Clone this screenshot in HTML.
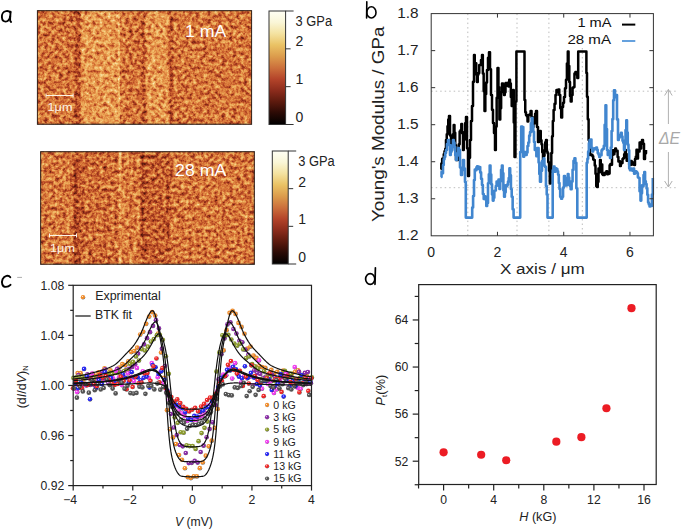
<!DOCTYPE html>
<html><head><meta charset="utf-8"><title>figure</title>
<style>html,body{margin:0;padding:0;background:#fff;width:685px;height:529px;overflow:hidden}svg text{font-family:"Liberation Sans",sans-serif}</style>
</head><body>
<svg width="685" height="529" viewBox="0 0 685 529" style="display:block;font-family:'Liberation Sans', sans-serif"><defs><linearGradient id="s1" gradientUnits="userSpaceOnUse" x1="37.4" y1="0" x2="251.6" y2="0"><stop offset="0.0000" stop-color="rgb(133,133,133)"/><stop offset="0.1709" stop-color="rgb(131,131,131)"/><stop offset="0.1825" stop-color="rgb(108,108,108)"/><stop offset="0.1965" stop-color="rgb(110,110,110)"/><stop offset="0.2082" stop-color="rgb(154,154,154)"/><stop offset="0.3739" stop-color="rgb(155,155,155)"/><stop offset="0.3810" stop-color="rgb(184,184,184)"/><stop offset="0.3880" stop-color="rgb(138,138,138)"/><stop offset="0.4136" stop-color="rgb(131,131,131)"/><stop offset="0.4837" stop-color="rgb(131,131,131)"/><stop offset="0.4977" stop-color="rgb(103,103,103)"/><stop offset="0.5117" stop-color="rgb(154,154,154)"/><stop offset="0.6050" stop-color="rgb(154,154,154)"/><stop offset="0.6214" stop-color="rgb(108,108,108)"/><stop offset="0.6377" stop-color="rgb(133,133,133)"/><stop offset="1.0000" stop-color="rgb(133,133,133)"/></linearGradient>
<linearGradient id="s2" gradientUnits="userSpaceOnUse" x1="40.7" y1="0" x2="254.3" y2="0"><stop offset="0.0000" stop-color="rgb(136,136,136)"/><stop offset="0.1465" stop-color="rgb(133,133,133)"/><stop offset="0.1606" stop-color="rgb(100,100,100)"/><stop offset="0.1793" stop-color="rgb(105,105,105)"/><stop offset="0.1934" stop-color="rgb(126,126,126)"/><stop offset="0.3619" stop-color="rgb(128,128,128)"/><stop offset="0.3713" stop-color="rgb(164,164,164)"/><stop offset="0.3806" stop-color="rgb(136,136,136)"/><stop offset="0.4602" stop-color="rgb(136,136,136)"/><stop offset="0.4789" stop-color="rgb(100,100,100)"/><stop offset="0.4953" stop-color="rgb(118,118,118)"/><stop offset="0.5866" stop-color="rgb(118,118,118)"/><stop offset="0.5983" stop-color="rgb(105,105,105)"/><stop offset="0.6100" stop-color="rgb(133,133,133)"/><stop offset="1.0000" stop-color="rgb(133,133,133)"/></linearGradient>
<filter id="f1" filterUnits="userSpaceOnUse" x="37.4" y="10.7" width="214.2" height="113.5" color-interpolation-filters="sRGB">
<feTurbulence type="fractalNoise" baseFrequency="0.27" numOctaves="3" seed="7" result="n"/>
<feColorMatrix in="n" type="matrix" values="1 0 0 0 0 1 0 0 0 0 1 0 0 0 0 0 0 0 0 1" result="ng0"/>
<feGaussianBlur in="ng0" stdDeviation="0.45" result="ng"/>
<feComposite in="SourceGraphic" in2="ng" operator="arithmetic" k1="0" k2="1" k3="0.78" k4="-0.39" result="v"/>
<feComponentTransfer in="v"><feFuncR type="table" tableValues="0.000 0.165 0.361 0.549 0.706 0.831 0.902 0.941 0.961 0.980 1.000"/><feFuncG type="table" tableValues="0.000 0.039 0.102 0.173 0.275 0.431 0.588 0.714 0.804 0.922 1.000"/><feFuncB type="table" tableValues="0.000 0.020 0.055 0.094 0.141 0.204 0.294 0.392 0.510 0.745 0.922"/></feComponentTransfer>
</filter>
<filter id="f2" filterUnits="userSpaceOnUse" x="40.7" y="151.75" width="213.60000000000002" height="112.44999999999999" color-interpolation-filters="sRGB">
<feTurbulence type="fractalNoise" baseFrequency="0.27" numOctaves="3" seed="11" result="n"/>
<feColorMatrix in="n" type="matrix" values="1 0 0 0 0 1 0 0 0 0 1 0 0 0 0 0 0 0 0 1" result="ng0"/>
<feGaussianBlur in="ng0" stdDeviation="0.45" result="ng"/>
<feComposite in="SourceGraphic" in2="ng" operator="arithmetic" k1="0" k2="1" k3="0.78" k4="-0.39" result="v"/>
<feComponentTransfer in="v"><feFuncR type="table" tableValues="0.000 0.165 0.361 0.549 0.706 0.831 0.902 0.941 0.961 0.980 1.000"/><feFuncG type="table" tableValues="0.000 0.039 0.102 0.173 0.275 0.431 0.588 0.714 0.804 0.922 1.000"/><feFuncB type="table" tableValues="0.000 0.020 0.055 0.094 0.141 0.204 0.294 0.392 0.510 0.745 0.922"/></feComponentTransfer>
</filter>
<linearGradient id="cb" x1="0" y1="1" x2="0" y2="0"><stop offset="0.00" stop-color="rgb(0, 0, 0)"/><stop offset="0.10" stop-color="rgb(42, 10, 5)"/><stop offset="0.20" stop-color="rgb(92, 26, 14)"/><stop offset="0.30" stop-color="rgb(140, 44, 28)"/><stop offset="0.40" stop-color="rgb(180, 68, 42)"/><stop offset="0.50" stop-color="rgb(204, 112, 60)"/><stop offset="0.60" stop-color="rgb(220, 156, 76)"/><stop offset="0.70" stop-color="rgb(234, 194, 100)"/><stop offset="0.80" stop-color="rgb(244, 226, 160)"/><stop offset="0.90" stop-color="rgb(250, 246, 215)"/><stop offset="1.00" stop-color="rgb(255, 255, 245)"/></linearGradient>
<radialGradient id="gef8d2e" cx="0.4" cy="0.38" r="0.62"><stop offset="0" stop-color="#fff" stop-opacity="0.85"/><stop offset="0.3" stop-color="#ef8d2e"/><stop offset="0.8" stop-color="#ef8d2e"/><stop offset="1" stop-color="#000" stop-opacity="0.6"/></radialGradient>
<radialGradient id="g8a2ea6" cx="0.4" cy="0.38" r="0.62"><stop offset="0" stop-color="#fff" stop-opacity="0.85"/><stop offset="0.3" stop-color="#8a2ea6"/><stop offset="0.8" stop-color="#8a2ea6"/><stop offset="1" stop-color="#000" stop-opacity="0.6"/></radialGradient>
<radialGradient id="g8b9a2e" cx="0.4" cy="0.38" r="0.62"><stop offset="0" stop-color="#fff" stop-opacity="0.85"/><stop offset="0.3" stop-color="#8b9a2e"/><stop offset="0.8" stop-color="#8b9a2e"/><stop offset="1" stop-color="#000" stop-opacity="0.6"/></radialGradient>
<radialGradient id="gf040f0" cx="0.4" cy="0.38" r="0.62"><stop offset="0" stop-color="#fff" stop-opacity="0.85"/><stop offset="0.3" stop-color="#f040f0"/><stop offset="0.8" stop-color="#f040f0"/><stop offset="1" stop-color="#000" stop-opacity="0.6"/></radialGradient>
<radialGradient id="g2a2af0" cx="0.4" cy="0.38" r="0.62"><stop offset="0" stop-color="#fff" stop-opacity="0.85"/><stop offset="0.3" stop-color="#2a2af0"/><stop offset="0.8" stop-color="#2a2af0"/><stop offset="1" stop-color="#000" stop-opacity="0.6"/></radialGradient>
<radialGradient id="gec2a2a" cx="0.4" cy="0.38" r="0.62"><stop offset="0" stop-color="#fff" stop-opacity="0.85"/><stop offset="0.3" stop-color="#ec2a2a"/><stop offset="0.8" stop-color="#ec2a2a"/><stop offset="1" stop-color="#000" stop-opacity="0.6"/></radialGradient>
<radialGradient id="g555555" cx="0.4" cy="0.38" r="0.62"><stop offset="0" stop-color="#fff" stop-opacity="0.85"/><stop offset="0.3" stop-color="#555555"/><stop offset="0.8" stop-color="#555555"/><stop offset="1" stop-color="#000" stop-opacity="0.6"/></radialGradient></defs>
<g fill="none" stroke="#000" stroke-width="1.9" stroke-linecap="round" stroke-linejoin="round">
<path d="M10.3,12.4 C9.4,11.2 7.6,10.9 6.1,11.1 C3.2,11.5 1.7,14.4 1.9,17.3 C2.1,20.1 3.5,21.6 5.6,21.6 C7.9,21.6 9.6,19.4 10.2,16.4"/>
<path d="M10.6,11.6 C10.4,14.4 10.1,17.2 10.1,19.4 C10.1,20.8 10.5,21.5 11.1,22"/>
<path d="M366.8,1.8 L366.6,18" stroke-width="1.6"/>
<ellipse cx="371.4" cy="12.4" rx="4.6" ry="5.6" stroke-width="1.6"/>
<path d="M10.3,277.2 C8.6,274.8 4.4,275.4 2.6,279.2 C1.2,282.6 2.2,286.9 5.8,286.9 C7.8,286.9 9.4,286 10.5,284.8"/>
<ellipse cx="370.2" cy="279" rx="4.6" ry="5.4" stroke-width="1.7"/>
<path d="M375.4,267.8 L375,284.3" stroke-width="1.7"/>
</g>
<line x1="17.2" y1="277.4" x2="22" y2="277.4" stroke="#999" stroke-width="0.8"/>
<rect x="37.4" y="10.7" width="214.2" height="113.5" fill="url(#s1)" filter="url(#f1)"/>
<rect x="37.4" y="10.7" width="214.2" height="113.5" fill="none" stroke="#3a2a20" stroke-width="1"/>
<rect x="40.7" y="151.75" width="213.6" height="112.45" fill="url(#s2)" filter="url(#f2)"/>
<rect x="40.7" y="151.75" width="213.6" height="112.45" fill="none" stroke="#3a2a20" stroke-width="1"/>
<text x="185" y="37" font-size="16" text-anchor="start" fill="#fff" textLength="41.4" lengthAdjust="spacingAndGlyphs" >1 mA</text>
<text x="175" y="175.5" font-size="16" text-anchor="start" fill="#fff" textLength="51.4" lengthAdjust="spacingAndGlyphs" >28 mA</text>
<g stroke="#fbf3e6" stroke-width="1"><line x1="46.1" y1="95.5" x2="73.1" y2="95.5"/><line x1="46.1" y1="93.5" x2="46.1" y2="97.5"/><line x1="73.1" y1="93.5" x2="73.1" y2="97.5"/></g>
<text x="47.5" y="111" font-size="10.5" text-anchor="start" fill="#fbf3e6" textLength="25" lengthAdjust="spacingAndGlyphs" >1μm</text>
<g stroke="#fbf3e6" stroke-width="1"><line x1="49.5" y1="235.5" x2="76.5" y2="235.5"/><line x1="49.5" y1="233.5" x2="49.5" y2="237.5"/><line x1="76.5" y1="233.5" x2="76.5" y2="237.5"/></g>
<text x="50" y="252" font-size="10.5" text-anchor="start" fill="#fbf3e6" textLength="25" lengthAdjust="spacingAndGlyphs" >1μm</text>
<rect x="269" y="11" width="16.6" height="113.5" fill="url(#cb)" stroke="#333" stroke-width="1"/>
<g stroke="#333" stroke-width="1"><line x1="285.6" y1="11" x2="293.6" y2="11"/><line x1="285.6" y1="124.5" x2="293.6" y2="124.5"/><line x1="285.6" y1="48.83" x2="290.6" y2="48.83"/><line x1="285.6" y1="86.67" x2="290.6" y2="86.67"/></g>
<text x="295.6" y="25.5" font-size="14" text-anchor="start" fill="#222" textLength="36.5" lengthAdjust="spacingAndGlyphs" >3 GPa</text>
<text x="295.6" y="46" font-size="14" text-anchor="start" fill="#222" >2</text>
<text x="295.6" y="84" font-size="14" text-anchor="start" fill="#222" >1</text>
<text x="295.6" y="121.5" font-size="14" text-anchor="start" fill="#222" >0</text>
<rect x="272.3" y="151" width="15.9" height="113" fill="url(#cb)" stroke="#333" stroke-width="1"/>
<g stroke="#333" stroke-width="1"><line x1="288.2" y1="151" x2="296.2" y2="151"/><line x1="288.2" y1="264" x2="296.2" y2="264"/><line x1="288.2" y1="188.67" x2="293.2" y2="188.67"/><line x1="288.2" y1="226.33" x2="293.2" y2="226.33"/></g>
<text x="298.2" y="166" font-size="14" text-anchor="start" fill="#222" textLength="36.5" lengthAdjust="spacingAndGlyphs" >3 GPa</text>
<text x="298.2" y="186.5" font-size="14" text-anchor="start" fill="#222" >2</text>
<text x="298.2" y="224" font-size="14" text-anchor="start" fill="#222" >1</text>
<text x="298.2" y="261.5" font-size="14" text-anchor="start" fill="#222" >0</text>
<line x1="467.8" y1="13.6" x2="467.8" y2="235.8" stroke="#bdbdbd" stroke-width="1" stroke-dasharray="1.5,3"/>
<line x1="517" y1="13.6" x2="517" y2="235.8" stroke="#bdbdbd" stroke-width="1" stroke-dasharray="1.5,3"/>
<line x1="548.9" y1="13.6" x2="548.9" y2="235.8" stroke="#bdbdbd" stroke-width="1" stroke-dasharray="1.5,3"/>
<line x1="582.3" y1="48" x2="582.3" y2="235.8" stroke="#bdbdbd" stroke-width="1" stroke-dasharray="1.5,3"/>
<line x1="431.2" y1="91.2" x2="678" y2="91.2" stroke="#bdbdbd" stroke-width="1" stroke-dasharray="1.5,3"/>
<line x1="431.2" y1="187.7" x2="678" y2="187.7" stroke="#bdbdbd" stroke-width="1" stroke-dasharray="1.5,3"/>
<g stroke="#b0b0b0" stroke-width="1" fill="none"><line x1="668.4" y1="89.5" x2="668.4" y2="124"/><path d="M664.6,95.5 L668.4,89.5 L672.2,95.5"/><line x1="668.4" y1="152" x2="668.4" y2="187"/><path d="M664.6,181 L668.4,187 L672.2,181"/></g>
<text x="659" y="144" font-size="16" text-anchor="start" fill="#a8a8a8" textLength="21" lengthAdjust="spacingAndGlyphs" font-style="italic">ΔE</text>
<path d="M440.5,169 L441.33,169 L441.33,163.43 L442.17,163.43 L442.17,158.76 L443,158.76 L443,160 L443.75,160 L443.75,154.21 L444.5,154.21 L444.5,151.35 L445.25,151.35 L445.25,148.64 L446,148.64 L446,140 L446.75,140 L446.75,134.35 L447.5,134.35 L447.5,126.23 L448.25,126.23 L448.25,119.49 L449,119.49 L449,116 L450,116 L450,135.4 L451,135.4 L451,150 L451.9,150 L451.9,146.9 L452.8,146.9 L452.8,134.21 L453.7,134.21 L453.7,125 L454.47,125 L454.47,132.72 L455.23,132.72 L455.23,145.27 L456,145.27 L456,160 L457,160 L457,160.12 L458,160.12 L458,150 L458.82,150 L458.82,144.15 L459.65,144.15 L459.65,131.46 L460.48,131.46 L460.48,130.23 L461.3,130.23 L461.3,124 L462.15,124 L462.15,133.28 L463,133.28 L463,150 L463.75,150 L463.75,139.74 L464.5,139.74 L464.5,131.94 L465.25,131.94 L465.25,122.97 L466,122.97 L466,117 L467,117 L467,148.27 L468,148.27 L468,176 L469,176 L469,157.8 L470,157.8 L470,140 L471,140 L471,121.11 L472,121.11 L472,106 L473,106 L473,81.81 L474,81.81 L474,55 L474.75,55 L474.75,64.41 L475.5,64.41 L475.5,63.24 L476.25,63.24 L476.25,74.43 L477,74.43 L477,82 L477.75,82 L477.75,74.61 L478.5,74.61 L478.5,72.95 L479.25,72.95 L479.25,65.12 L480,65.12 L480,65 L481,65 L481,60.07 L482,60.07 L482,55 L482.83,55 L482.83,73.55 L483.67,73.55 L483.67,91.36 L484.5,91.36 L484.5,111 L485.33,111 L485.33,93.98 L486.17,93.98 L486.17,82.4 L487,82.4 L487,70 L488,70 L488,57.66 L489,57.66 L489,52.3 L490,52.3 L490,69.31 L491,69.31 L491,95 L492,95 L492,109.72 L493,109.72 L493,123 L494,123 L494,132.95 L495,132.95 L495,150 L495.83,150 L495.83,126.41 L496.67,126.41 L496.67,97.63 L497.5,97.63 L497.5,68 L498.45,68 L498.45,87.36 L499.4,87.36 L499.4,119.5 L500.27,119.5 L500.27,108.37 L501.13,108.37 L501.13,91.97 L502,91.97 L502,83.5 L503,83.5 L503,89.36 L504,89.36 L504,95 L504.75,95 L504.75,92.26 L505.5,92.26 L505.5,82.89 L506.25,82.89 L506.25,85.63 L507,85.63 L507,83.5 L507.75,83.5 L507.75,82.68 L508.5,82.68 L508.5,86.58 L509.25,86.58 L509.25,79.72 L510,79.72 L510,83.5 L510.85,83.5 L510.85,97.11 L511.7,97.11 L511.7,106 L512.35,106 L512.35,94.48 L513,94.48 L513,90 L513.75,90 L513.75,122.44 L514.5,122.44 L514.5,157 L515.45,157 L515.45,101.51 L516.4,101.51 L516.4,51.4 L517.16,51.4 L517.16,51.4 L517.92,51.4 L517.92,51.4 L518.68,51.4 L518.68,51.4 L519.44,51.4 L519.44,51.4 L520.2,51.4 L520.2,51.4 L520.96,51.4 L520.96,51.4 L521.72,51.4 L521.72,51.4 L522.48,51.4 L522.48,51.4 L523.24,51.4 L523.24,51.4 L524,51.4 L524,51.4 L524.5,51.4 L524.5,100 L525.25,100 L525.25,112.14 L526,112.14 L526,115 L526.77,115 L526.77,116.15 L527.53,116.15 L527.53,121.45 L528.3,121.45 L528.3,115.05 L529.07,115.05 L529.07,115.04 L529.83,115.04 L529.83,114.36 L530.6,114.36 L530.6,111 L531.55,111 L531.55,117.06 L532.5,117.06 L532.5,127 L533.38,127 L533.38,122.78 L534.25,122.78 L534.25,123.32 L535.12,123.32 L535.12,113.73 L536,113.73 L536,111 L537,111 L537,127.1 L538,127.1 L538,142 L539,142 L539,136.43 L540,136.43 L540,131 L540.75,131 L540.75,140.2 L541.5,140.2 L541.5,144.33 L542.25,144.33 L542.25,152.26 L543,152.26 L543,160 L543.75,160 L543.75,155.78 L544.5,155.78 L544.5,150.33 L545.25,150.33 L545.25,142.23 L546,142.23 L546,140 L546.76,140 L546.76,151.57 L547.52,151.57 L547.52,153.24 L548.28,153.24 L548.28,162.26 L549.04,162.26 L549.04,170.7 L549.8,170.7 L549.8,183.5 L550.56,183.5 L550.56,171.89 L551.32,171.89 L551.32,152.95 L552.08,152.95 L552.08,136.29 L552.84,136.29 L552.84,121.06 L553.6,121.06 L553.6,110 L554.55,110 L554.55,103.85 L555.5,103.85 L555.5,95 L556.45,95 L556.45,90.12 L557.4,90.12 L557.4,92 L558.35,92 L558.35,89.43 L559.3,89.43 L559.3,95 L560.25,95 L560.25,108.26 L561.2,108.26 L561.2,117.6 L562.13,117.6 L562.13,106.9 L563.07,106.9 L563.07,102.83 L564,102.83 L564,97 L565,97 L565,88.33 L566,88.33 L566,79.7 L566.9,79.7 L566.9,63.62 L567.8,63.62 L567.8,51.4 L568.55,51.4 L568.55,66.03 L569.3,66.03 L569.3,82 L570,82 L570,96.03 L570.7,96.03 L570.7,101.5 L571.63,101.5 L571.63,95.01 L572.57,95.01 L572.57,87.8 L573.5,87.8 L573.5,87 L574.45,87 L574.45,73.62 L575.4,73.62 L575.4,72 L576.35,72 L576.35,74.34 L577.3,74.34 L577.3,78 L578.2,78 L578.2,51.4 L579.04,51.4 L579.04,51.4 L579.89,51.4 L579.89,51.4 L580.73,51.4 L580.73,51.4 L581.58,51.4 L581.58,51.4 L582.42,51.4 L582.42,51.4 L583.27,51.4 L583.27,51.4 L584.11,51.4 L584.11,51.4 L584.96,51.4 L584.96,51.4 L585.8,51.4 L585.8,51.4 L586.4,51.4 L586.4,72.97 L587,72.97 L587,96.8 L587.8,96.8 L587.8,119.25 L588.6,119.25 L588.6,140 L589.3,140 L589.3,146.01 L590,146.01 L590,155 L590.8,155 L590.8,154.47 L591.6,154.47 L591.6,154.69 L592.4,154.69 L592.4,156.34 L593.2,156.34 L593.2,159.51 L594,159.51 L594,160 L594.75,160 L594.75,165.53 L595.5,165.53 L595.5,173.82 L596.25,173.82 L596.25,186.33 L597,186.33 L597,187 L597.75,187 L597.75,181.78 L598.5,181.78 L598.5,168.46 L599.25,168.46 L599.25,172.3 L600,172.3 L600,160 L600.75,160 L600.75,164.86 L601.5,164.86 L601.5,164.49 L602.25,164.49 L602.25,174.15 L603,174.15 L603,175 L603.83,175 L603.83,174.89 L604.67,174.89 L604.67,172.7 L605.5,172.7 L605.5,172.47 L606.33,172.47 L606.33,171.15 L607.17,171.15 L607.17,174.32 L608,174.32 L608,174 L608.8,174 L608.8,173.62 L609.6,173.62 L609.6,165.36 L610.4,165.36 L610.4,163.95 L611.2,163.95 L611.2,164.8 L612,164.8 L612,155 L612.8,155 L612.8,150.31 L613.6,150.31 L613.6,154.22 L614.4,154.22 L614.4,151.62 L615.2,151.62 L615.2,148.41 L616,148.41 L616,151 L616.8,151 L616.8,150.72 L617.6,150.72 L617.6,156.95 L618.4,156.95 L618.4,161.39 L619.2,161.39 L619.2,161.3 L620,161.3 L620,166 L620.83,166 L620.83,163.51 L621.67,163.51 L621.67,162.98 L622.5,162.98 L622.5,158.95 L623.33,158.95 L623.33,158.11 L624.17,158.11 L624.17,154.14 L625,154.14 L625,150 L625.83,150 L625.83,154.06 L626.67,154.06 L626.67,160.85 L627.5,160.85 L627.5,159.49 L628.33,159.49 L628.33,160.41 L629.17,160.41 L629.17,164.77 L630,164.77 L630,165 L630.83,165 L630.83,161.06 L631.67,161.06 L631.67,161.92 L632.5,161.92 L632.5,164.54 L633.33,164.54 L633.33,163.02 L634.17,163.02 L634.17,164.95 L635,164.95 L635,159 L635.75,159 L635.75,156.78 L636.5,156.78 L636.5,149.82 L637.25,149.82 L637.25,158.48 L638,158.48 L638,150 L638.8,150 L638.8,151.5 L639.6,151.5 L639.6,142.61 L640.4,142.61 L640.4,148.4 L641.2,148.4 L641.2,142.1 L642,142.1 L642,140 L643,140 L643,143.7 L644,143.7 L644,159 L645,159 L645,153.15 L646,153.15 L646,150" fill="none" stroke="#000" stroke-width="2.5" stroke-linejoin="round" />
<path d="M440.8,177 L441.53,177 L441.53,171.68 L442.27,171.68 L442.27,173.14 L443,173.14 L443,165 L443.75,165 L443.75,159.19 L444.5,159.19 L444.5,156.84 L445.25,156.84 L445.25,153.03 L446,153.03 L446,150 L447,150 L447,144.01 L448,144.01 L448,140 L449,140 L449,145.12 L450,145.12 L450,155 L450.75,155 L450.75,151.82 L451.5,151.82 L451.5,150.3 L452.25,150.3 L452.25,145.37 L453,145.37 L453,140 L453.75,140 L453.75,142.59 L454.5,142.59 L454.5,147.01 L455.25,147.01 L455.25,155.31 L456,155.31 L456,160 L456.75,160 L456.75,155.66 L457.5,155.66 L457.5,153.36 L458.25,153.36 L458.25,148.13 L459,148.13 L459,150 L460,150 L460,167.57 L461,167.57 L461,175 L462,175 L462,169.88 L463,169.88 L463,160 L464,160 L464,168.47 L465,168.47 L465,182 L465.8,182 L465.8,217.6 L466.59,217.6 L466.59,217.6 L467.37,217.6 L467.37,217.6 L468.16,217.6 L468.16,217.6 L468.94,217.6 L468.94,217.6 L469.73,217.6 L469.73,217.6 L470.51,217.6 L470.51,217.6 L471.3,217.6 L471.3,217.6 L472.2,217.6 L472.2,207.43 L473.1,207.43 L473.1,196.02 L474,196.02 L474,180 L474.8,180 L474.8,169.59 L475.6,169.59 L475.6,170.17 L476.4,170.17 L476.4,167.4 L477.12,167.4 L477.12,166.29 L477.85,166.29 L477.85,168.89 L478.57,168.89 L478.57,166.78 L479.3,166.78 L479.3,167 L480.2,167 L480.2,172.4 L481.1,172.4 L481.1,178.85 L482,178.85 L482,185 L482.86,185 L482.86,194.02 L483.72,194.02 L483.72,199.02 L484.58,199.02 L484.58,196.24 L485.44,196.24 L485.44,199.39 L486.3,199.39 L486.3,206 L487.15,206 L487.15,202.9 L488,202.9 L488,183.25 L488.85,183.25 L488.85,174.21 L489.7,174.21 L489.7,165.6 L490.48,165.6 L490.48,174.45 L491.25,174.45 L491.25,184.36 L492.02,184.36 L492.02,194.53 L492.8,194.53 L492.8,200.6 L493.56,200.6 L493.56,197.82 L494.32,197.82 L494.32,190.73 L495.08,190.73 L495.08,190.52 L495.84,190.52 L495.84,186.05 L496.6,186.05 L496.6,181.6 L497.55,181.6 L497.55,185.43 L498.5,185.43 L498.5,179.5 L499.4,179.5 L499.4,189 L500.23,189 L500.23,181.13 L501.07,181.13 L501.07,169.86 L501.9,169.86 L501.9,165.5 L502.63,165.5 L502.63,173.22 L503.37,173.22 L503.37,190.14 L504.1,190.14 L504.1,196.8 L504.88,196.8 L504.88,192.36 L505.66,192.36 L505.66,185.25 L506.44,185.25 L506.44,186.17 L507.22,186.17 L507.22,184.64 L508,184.64 L508,181.6 L508.7,181.6 L508.7,178.09 L509.4,178.09 L509.4,168.4 L510.17,168.4 L510.17,175.23 L510.93,175.23 L510.93,189.07 L511.7,189.07 L511.7,196.8 L512.65,196.8 L512.65,209.27 L513.6,209.27 L513.6,217.6 L514.41,217.6 L514.41,217.6 L515.23,217.6 L515.23,217.6 L516.04,217.6 L516.04,217.6 L516.86,217.6 L516.86,217.6 L517.67,217.6 L517.67,217.6 L518.49,217.6 L518.49,217.6 L519.3,217.6 L519.3,217.6 L520.2,217.6 L520.2,152 L521.2,152 L521.2,126.5 L522.3,126.5 L522.3,127 L523.3,127 L523.3,156.7 L524.14,156.7 L524.14,152.74 L524.98,152.74 L524.98,151.93 L525.82,151.93 L525.82,154.88 L526.66,154.88 L526.66,152.61 L527.5,152.61 L527.5,146 L528.34,146 L528.34,142.62 L529.18,142.62 L529.18,135.66 L530.02,135.66 L530.02,132.16 L530.86,132.16 L530.86,123.23 L531.7,123.23 L531.7,118 L532.48,118 L532.48,125.75 L533.25,125.75 L533.25,131.76 L534.02,131.76 L534.02,142.01 L534.8,142.01 L534.8,150 L535.57,150 L535.57,149.29 L536.35,149.29 L536.35,156.21 L537.12,156.21 L537.12,148 L537.9,148 L537.9,148 L538.6,148 L538.6,162.54 L539.3,162.54 L539.3,173.9 L540,173.9 L540,181.7 L541,181.7 L541,170.87 L542,170.87 L542,161 L542.8,161 L542.8,165.54 L543.6,165.54 L543.6,158.34 L544.4,158.34 L544.4,165.75 L545.2,165.75 L545.2,167 L545.97,167 L545.97,186.1 L546.73,186.1 L546.73,194.5 L547.5,194.5 L547.5,217.6 L548.34,217.6 L548.34,217.6 L549.18,217.6 L549.18,217.6 L550.02,217.6 L550.02,217.6 L550.86,217.6 L550.86,217.6 L551.7,217.6 L551.7,217.6 L552.7,217.6 L552.7,170.3 L553.63,170.3 L553.63,166.65 L554.57,166.65 L554.57,171.78 L555.5,171.78 L555.5,168.4 L556.45,168.4 L556.45,169.13 L557.4,169.13 L557.4,171.2 L558.1,171.2 L558.1,174.74 L558.8,174.74 L558.8,183.03 L559.5,183.03 L559.5,188.99 L560.2,188.99 L560.2,196.8 L561.15,196.8 L561.15,198.68 L562.1,198.68 L562.1,196.8 L563.05,196.8 L563.05,187.58 L564,187.58 L564,176 L564.95,176 L564.95,179.97 L565.9,179.97 L565.9,185.4 L566.85,185.4 L566.85,177.97 L567.8,177.97 L567.8,174 L568.52,174 L568.52,177.66 L569.25,177.66 L569.25,185.05 L569.98,185.05 L569.98,186.31 L570.7,186.31 L570.7,189.2 L571.63,189.2 L571.63,181.39 L572.57,181.39 L572.57,169.87 L573.5,169.87 L573.5,160.8 L574.45,160.8 L574.45,158.39 L575.4,158.39 L575.4,162.7 L576.35,162.7 L576.35,188.3 L577.3,188.3 L577.3,217.6 L578.07,217.6 L578.07,217.6 L578.85,217.6 L578.85,217.6 L579.62,217.6 L579.62,217.6 L580.39,217.6 L580.39,217.6 L581.16,217.6 L581.16,217.6 L581.94,217.6 L581.94,217.6 L582.71,217.6 L582.71,217.6 L583.48,217.6 L583.48,217.6 L584.25,217.6 L584.25,217.6 L585.03,217.6 L585.03,217.6 L585.8,217.6 L585.8,217.6 L586.7,217.6 L586.7,162.7 L587.43,162.7 L587.43,158.72 L588.15,158.72 L588.15,151.62 L588.88,151.62 L588.88,143.33 L589.6,143.33 L589.6,140 L590.53,140 L590.53,139.59 L591.47,139.59 L591.47,147.89 L592.4,147.89 L592.4,151.4 L593.16,151.4 L593.16,149.76 L593.92,149.76 L593.92,148.97 L594.68,148.97 L594.68,148.26 L595.44,148.26 L595.44,149.1 L596.2,149.1 L596.2,147.6 L596.96,147.6 L596.96,149.85 L597.72,149.85 L597.72,153.06 L598.48,153.06 L598.48,154.45 L599.24,154.45 L599.24,156.98 L600,156.98 L600,155 L600.76,155 L600.76,155.24 L601.52,155.24 L601.52,150.41 L602.28,150.41 L602.28,149.28 L603.04,149.28 L603.04,148.84 L603.8,148.84 L603.8,145.7 L604.65,145.7 L604.65,124.69 L605.5,124.69 L605.5,105.3 L606.25,105.3 L606.25,129.08 L607,129.08 L607,150 L607.75,150 L607.75,155 L608.5,155 L608.5,151.92 L609.25,151.92 L609.25,151.4 L610,151.4 L610,158 L610.8,158 L610.8,147.54 L611.6,147.54 L611.6,130.93 L612.4,130.93 L612.4,119.16 L613.2,119.16 L613.2,100.3 L614,100.3 L614,90.2 L615,90.2 L615,97.11 L616,97.11 L616,95 L617,95 L617,119.42 L618,119.42 L618,140 L618.75,140 L618.75,137.85 L619.5,137.85 L619.5,135.43 L620.25,135.43 L620.25,134.82 L621,134.82 L621,132.7 L621.75,132.7 L621.75,136.59 L622.5,136.59 L622.5,140.63 L623.25,140.63 L623.25,142.76 L624,142.76 L624,150 L624.77,150 L624.77,143.42 L625.53,143.42 L625.53,130.16 L626.3,130.16 L626.3,120.4 L627.02,120.4 L627.02,132.59 L627.75,132.59 L627.75,144.64 L628.48,144.64 L628.48,150.27 L629.2,150.27 L629.2,168.4 L630.01,168.4 L630.01,170.28 L630.83,170.28 L630.83,168.57 L631.64,168.57 L631.64,169.19 L632.46,169.19 L632.46,170.64 L633.27,170.64 L633.27,168.44 L634.09,168.44 L634.09,173.68 L634.9,173.68 L634.9,172 L635.64,172 L635.64,171.39 L636.38,171.39 L636.38,172.05 L637.12,172.05 L637.12,173.36 L637.86,173.36 L637.86,177.21 L638.6,177.21 L638.6,178 L639.55,178 L639.55,191.24 L640.5,191.24 L640.5,200.6 L641.26,200.6 L641.26,193.33 L642.02,193.33 L642.02,185.23 L642.78,185.23 L642.78,186.2 L643.54,186.2 L643.54,174.95 L644.3,174.95 L644.3,172 L645.06,172 L645.06,181.21 L645.82,181.21 L645.82,184.06 L646.58,184.06 L646.58,188.48 L647.34,188.48 L647.34,194.74 L648.1,194.74 L648.1,202.5 L648.83,202.5 L648.83,204.58 L649.55,204.58 L649.55,206.56 L650.27,206.56 L650.27,204.61 L651,204.61 L651,206 L651.9,206 L651.9,194.46 L652.8,194.46 L652.8,178" fill="none" stroke="#4186cf" stroke-width="2.6" stroke-linejoin="round" />
<rect x="431.2" y="13.6" width="222.2" height="222.2" fill="none" stroke="#333" stroke-width="1"/>
<g stroke="#333" stroke-width="1"><line x1="431.2" y1="198.77" x2="435.2" y2="198.77"/><line x1="653.4" y1="198.77" x2="649.4" y2="198.77"/><line x1="431.2" y1="161.73" x2="435.2" y2="161.73"/><line x1="653.4" y1="161.73" x2="649.4" y2="161.73"/><line x1="431.2" y1="124.7" x2="435.2" y2="124.7"/><line x1="653.4" y1="124.7" x2="649.4" y2="124.7"/><line x1="431.2" y1="87.67" x2="435.2" y2="87.67"/><line x1="653.4" y1="87.67" x2="649.4" y2="87.67"/><line x1="431.2" y1="50.63" x2="435.2" y2="50.63"/><line x1="653.4" y1="50.63" x2="649.4" y2="50.63"/><line x1="497.46" y1="235.8" x2="497.46" y2="231.8"/><line x1="497.46" y1="13.6" x2="497.46" y2="17.6"/><line x1="563.72" y1="235.8" x2="563.72" y2="231.8"/><line x1="563.72" y1="13.6" x2="563.72" y2="17.6"/><line x1="629.98" y1="235.8" x2="629.98" y2="231.8"/><line x1="629.98" y1="13.6" x2="629.98" y2="17.6"/></g>
<text x="418.5" y="240" font-size="14" text-anchor="end" fill="#222" textLength="21.3" lengthAdjust="spacingAndGlyphs" >1.2</text>
<text x="418.5" y="202.97" font-size="14" text-anchor="end" fill="#222" textLength="21.3" lengthAdjust="spacingAndGlyphs" >1.3</text>
<text x="418.5" y="165.93" font-size="14" text-anchor="end" fill="#222" textLength="21.3" lengthAdjust="spacingAndGlyphs" >1.4</text>
<text x="418.5" y="128.9" font-size="14" text-anchor="end" fill="#222" textLength="21.3" lengthAdjust="spacingAndGlyphs" >1.5</text>
<text x="418.5" y="91.87" font-size="14" text-anchor="end" fill="#222" textLength="21.3" lengthAdjust="spacingAndGlyphs" >1.6</text>
<text x="418.5" y="54.83" font-size="14" text-anchor="end" fill="#222" textLength="21.3" lengthAdjust="spacingAndGlyphs" >1.7</text>
<text x="418.5" y="17.8" font-size="14" text-anchor="end" fill="#222" textLength="21.3" lengthAdjust="spacingAndGlyphs" >1.8</text>
<text x="431.2" y="256.8" font-size="14" text-anchor="middle" fill="#222" >0</text>
<text x="497.46" y="256.8" font-size="14" text-anchor="middle" fill="#222" >2</text>
<text x="563.72" y="256.8" font-size="14" text-anchor="middle" fill="#222" >4</text>
<text x="629.98" y="256.8" font-size="14" text-anchor="middle" fill="#222" >6</text>
<text x="500" y="274" font-size="15.5" text-anchor="start" fill="#222" textLength="84.7" lengthAdjust="spacingAndGlyphs" >X axis / μm</text>
<text transform="translate(383.8,222) rotate(-90)" font-size="16.6" fill="#222" textLength="195.5" lengthAdjust="spacingAndGlyphs">Young's Modulus / GPa</text>
<text x="611.5" y="27.4" font-size="13.3" text-anchor="end" fill="#111" textLength="34.1" lengthAdjust="spacingAndGlyphs" >1 mA</text>
<text x="611" y="43.7" font-size="13.3" text-anchor="end" fill="#111" textLength="43.6" lengthAdjust="spacingAndGlyphs" >28 mA</text>
<line x1="622" y1="24.6" x2="635.3" y2="24.6" stroke="#000" stroke-width="2" />
<line x1="622" y1="41" x2="635.3" y2="41" stroke="#4a90d9" stroke-width="1.7" />
<g><circle cx="74.69" cy="378.31" r="2.35" fill="url(#gef8d2e)"/><circle cx="77.67" cy="373.03" r="2.35" fill="url(#gef8d2e)"/><circle cx="80.65" cy="373.2" r="2.35" fill="url(#gef8d2e)"/><circle cx="83.63" cy="379.33" r="2.35" fill="url(#gef8d2e)"/><circle cx="86.6" cy="378.11" r="2.35" fill="url(#gef8d2e)"/><circle cx="89.58" cy="378.54" r="2.35" fill="url(#gef8d2e)"/><circle cx="92.56" cy="373.97" r="2.35" fill="url(#gef8d2e)"/><circle cx="95.54" cy="375.88" r="2.35" fill="url(#gef8d2e)"/><circle cx="98.52" cy="372.43" r="2.35" fill="url(#gef8d2e)"/><circle cx="101.5" cy="381.72" r="2.35" fill="url(#gef8d2e)"/><circle cx="104.48" cy="368.39" r="2.35" fill="url(#gef8d2e)"/><circle cx="107.46" cy="374.05" r="2.35" fill="url(#gef8d2e)"/><circle cx="110.43" cy="370.42" r="2.35" fill="url(#gef8d2e)"/><circle cx="113.41" cy="372.63" r="2.35" fill="url(#gef8d2e)"/><circle cx="116.39" cy="372.32" r="2.35" fill="url(#gef8d2e)"/><circle cx="119.37" cy="367.49" r="2.35" fill="url(#gef8d2e)"/><circle cx="122.35" cy="363.98" r="2.35" fill="url(#gef8d2e)"/><circle cx="125.33" cy="365.19" r="2.35" fill="url(#gef8d2e)"/><circle cx="128.31" cy="361.4" r="2.35" fill="url(#gef8d2e)"/><circle cx="131.29" cy="352.03" r="2.35" fill="url(#gef8d2e)"/><circle cx="134.26" cy="351.16" r="2.35" fill="url(#gef8d2e)"/><circle cx="137.24" cy="347.69" r="2.35" fill="url(#gef8d2e)"/><circle cx="140.22" cy="334.55" r="2.35" fill="url(#gef8d2e)"/><circle cx="143.2" cy="331.73" r="2.35" fill="url(#gef8d2e)"/><circle cx="146.18" cy="323.83" r="2.35" fill="url(#gef8d2e)"/><circle cx="149.16" cy="316.58" r="2.35" fill="url(#gef8d2e)"/><circle cx="152.14" cy="312.04" r="2.35" fill="url(#gef8d2e)"/><circle cx="155.12" cy="315.52" r="2.35" fill="url(#gef8d2e)"/><circle cx="158.09" cy="333.61" r="2.35" fill="url(#gef8d2e)"/><circle cx="161.07" cy="352.49" r="2.35" fill="url(#gef8d2e)"/><circle cx="164.05" cy="377.84" r="2.35" fill="url(#gef8d2e)"/><circle cx="167.03" cy="410.13" r="2.35" fill="url(#gef8d2e)"/><circle cx="170.01" cy="429.26" r="2.35" fill="url(#gef8d2e)"/><circle cx="172.99" cy="437.45" r="2.35" fill="url(#gef8d2e)"/><circle cx="175.97" cy="444.03" r="2.35" fill="url(#gef8d2e)"/><circle cx="178.95" cy="455.1" r="2.35" fill="url(#gef8d2e)"/><circle cx="181.92" cy="459.74" r="2.35" fill="url(#gef8d2e)"/><circle cx="184.9" cy="468.26" r="2.35" fill="url(#gef8d2e)"/><circle cx="187.88" cy="477.15" r="2.35" fill="url(#gef8d2e)"/><circle cx="190.86" cy="478.06" r="2.35" fill="url(#gef8d2e)"/><circle cx="193.84" cy="476.31" r="2.35" fill="url(#gef8d2e)"/><circle cx="196.82" cy="476.46" r="2.35" fill="url(#gef8d2e)"/><circle cx="199.8" cy="468.18" r="2.35" fill="url(#gef8d2e)"/><circle cx="202.78" cy="462.49" r="2.35" fill="url(#gef8d2e)"/><circle cx="205.75" cy="455.65" r="2.35" fill="url(#gef8d2e)"/><circle cx="208.73" cy="446.36" r="2.35" fill="url(#gef8d2e)"/><circle cx="211.71" cy="440.63" r="2.35" fill="url(#gef8d2e)"/><circle cx="214.69" cy="427.95" r="2.35" fill="url(#gef8d2e)"/><circle cx="217.67" cy="408.99" r="2.35" fill="url(#gef8d2e)"/><circle cx="220.65" cy="380.3" r="2.35" fill="url(#gef8d2e)"/><circle cx="223.63" cy="350.47" r="2.35" fill="url(#gef8d2e)"/><circle cx="226.61" cy="330.13" r="2.35" fill="url(#gef8d2e)"/><circle cx="229.58" cy="312.79" r="2.35" fill="url(#gef8d2e)"/><circle cx="232.56" cy="310.73" r="2.35" fill="url(#gef8d2e)"/><circle cx="235.54" cy="313.92" r="2.35" fill="url(#gef8d2e)"/><circle cx="238.52" cy="322.95" r="2.35" fill="url(#gef8d2e)"/><circle cx="241.5" cy="326.91" r="2.35" fill="url(#gef8d2e)"/><circle cx="244.48" cy="333.77" r="2.35" fill="url(#gef8d2e)"/><circle cx="247.46" cy="348.64" r="2.35" fill="url(#gef8d2e)"/><circle cx="250.44" cy="346.59" r="2.35" fill="url(#gef8d2e)"/><circle cx="253.41" cy="355.55" r="2.35" fill="url(#gef8d2e)"/><circle cx="256.39" cy="357.89" r="2.35" fill="url(#gef8d2e)"/><circle cx="259.37" cy="366.08" r="2.35" fill="url(#gef8d2e)"/><circle cx="262.35" cy="367.15" r="2.35" fill="url(#gef8d2e)"/><circle cx="265.33" cy="367.94" r="2.35" fill="url(#gef8d2e)"/><circle cx="268.31" cy="374.19" r="2.35" fill="url(#gef8d2e)"/><circle cx="271.29" cy="369.87" r="2.35" fill="url(#gef8d2e)"/><circle cx="274.27" cy="373.37" r="2.35" fill="url(#gef8d2e)"/><circle cx="277.24" cy="371.83" r="2.35" fill="url(#gef8d2e)"/><circle cx="280.22" cy="376.24" r="2.35" fill="url(#gef8d2e)"/><circle cx="283.2" cy="370.7" r="2.35" fill="url(#gef8d2e)"/><circle cx="286.18" cy="372.96" r="2.35" fill="url(#gef8d2e)"/><circle cx="289.16" cy="376.33" r="2.35" fill="url(#gef8d2e)"/><circle cx="292.14" cy="373.73" r="2.35" fill="url(#gef8d2e)"/><circle cx="295.12" cy="371.82" r="2.35" fill="url(#gef8d2e)"/><circle cx="298.1" cy="370.27" r="2.35" fill="url(#gef8d2e)"/><circle cx="301.07" cy="383.32" r="2.35" fill="url(#gef8d2e)"/><circle cx="304.05" cy="374.48" r="2.35" fill="url(#gef8d2e)"/><circle cx="307.03" cy="376.39" r="2.35" fill="url(#gef8d2e)"/><circle cx="310.01" cy="378.79" r="2.35" fill="url(#gef8d2e)"/><circle cx="75.55" cy="383.9" r="2.35" fill="url(#g8a2ea6)"/><circle cx="78.53" cy="375.18" r="2.35" fill="url(#g8a2ea6)"/><circle cx="81.51" cy="384.42" r="2.35" fill="url(#g8a2ea6)"/><circle cx="84.49" cy="377.32" r="2.35" fill="url(#g8a2ea6)"/><circle cx="87.47" cy="374.28" r="2.35" fill="url(#g8a2ea6)"/><circle cx="90.45" cy="384.84" r="2.35" fill="url(#g8a2ea6)"/><circle cx="93.43" cy="379.6" r="2.35" fill="url(#g8a2ea6)"/><circle cx="96.4" cy="382.99" r="2.35" fill="url(#g8a2ea6)"/><circle cx="99.38" cy="376.75" r="2.35" fill="url(#g8a2ea6)"/><circle cx="102.36" cy="371.56" r="2.35" fill="url(#g8a2ea6)"/><circle cx="105.34" cy="369.25" r="2.35" fill="url(#g8a2ea6)"/><circle cx="108.32" cy="383.12" r="2.35" fill="url(#g8a2ea6)"/><circle cx="111.3" cy="378.14" r="2.35" fill="url(#g8a2ea6)"/><circle cx="114.28" cy="372.79" r="2.35" fill="url(#g8a2ea6)"/><circle cx="117.26" cy="368.84" r="2.35" fill="url(#g8a2ea6)"/><circle cx="120.23" cy="372.36" r="2.35" fill="url(#g8a2ea6)"/><circle cx="123.21" cy="375.52" r="2.35" fill="url(#g8a2ea6)"/><circle cx="126.19" cy="369.92" r="2.35" fill="url(#g8a2ea6)"/><circle cx="129.17" cy="368.93" r="2.35" fill="url(#g8a2ea6)"/><circle cx="132.15" cy="366.95" r="2.35" fill="url(#g8a2ea6)"/><circle cx="135.13" cy="364.15" r="2.35" fill="url(#g8a2ea6)"/><circle cx="138.11" cy="353.62" r="2.35" fill="url(#g8a2ea6)"/><circle cx="141.09" cy="348.35" r="2.35" fill="url(#g8a2ea6)"/><circle cx="144.06" cy="344.38" r="2.35" fill="url(#g8a2ea6)"/><circle cx="147.04" cy="338.15" r="2.35" fill="url(#g8a2ea6)"/><circle cx="150.02" cy="332.21" r="2.35" fill="url(#g8a2ea6)"/><circle cx="153" cy="325.92" r="2.35" fill="url(#g8a2ea6)"/><circle cx="155.98" cy="320.21" r="2.35" fill="url(#g8a2ea6)"/><circle cx="158.96" cy="328.45" r="2.35" fill="url(#g8a2ea6)"/><circle cx="161.94" cy="348.69" r="2.35" fill="url(#g8a2ea6)"/><circle cx="164.92" cy="366.1" r="2.35" fill="url(#g8a2ea6)"/><circle cx="167.89" cy="395.04" r="2.35" fill="url(#g8a2ea6)"/><circle cx="170.87" cy="414.02" r="2.35" fill="url(#g8a2ea6)"/><circle cx="173.85" cy="427.49" r="2.35" fill="url(#g8a2ea6)"/><circle cx="176.83" cy="434.99" r="2.35" fill="url(#g8a2ea6)"/><circle cx="179.81" cy="444.99" r="2.35" fill="url(#g8a2ea6)"/><circle cx="182.79" cy="446.29" r="2.35" fill="url(#g8a2ea6)"/><circle cx="185.77" cy="452.99" r="2.35" fill="url(#g8a2ea6)"/><circle cx="188.75" cy="463.05" r="2.35" fill="url(#g8a2ea6)"/><circle cx="191.72" cy="462.79" r="2.35" fill="url(#g8a2ea6)"/><circle cx="194.7" cy="460.92" r="2.35" fill="url(#g8a2ea6)"/><circle cx="197.68" cy="462.59" r="2.35" fill="url(#g8a2ea6)"/><circle cx="200.66" cy="451.99" r="2.35" fill="url(#g8a2ea6)"/><circle cx="203.64" cy="445.69" r="2.35" fill="url(#g8a2ea6)"/><circle cx="206.62" cy="437.23" r="2.35" fill="url(#g8a2ea6)"/><circle cx="209.6" cy="429.09" r="2.35" fill="url(#g8a2ea6)"/><circle cx="212.58" cy="422.29" r="2.35" fill="url(#g8a2ea6)"/><circle cx="215.55" cy="405.05" r="2.35" fill="url(#g8a2ea6)"/><circle cx="218.53" cy="379.46" r="2.35" fill="url(#g8a2ea6)"/><circle cx="221.51" cy="354.14" r="2.35" fill="url(#g8a2ea6)"/><circle cx="224.49" cy="338.61" r="2.35" fill="url(#g8a2ea6)"/><circle cx="227.47" cy="324.41" r="2.35" fill="url(#g8a2ea6)"/><circle cx="230.45" cy="322.27" r="2.35" fill="url(#g8a2ea6)"/><circle cx="233.43" cy="328.98" r="2.35" fill="url(#g8a2ea6)"/><circle cx="236.41" cy="333.59" r="2.35" fill="url(#g8a2ea6)"/><circle cx="239.38" cy="340.75" r="2.35" fill="url(#g8a2ea6)"/><circle cx="242.36" cy="342.27" r="2.35" fill="url(#g8a2ea6)"/><circle cx="245.34" cy="349.61" r="2.35" fill="url(#g8a2ea6)"/><circle cx="248.32" cy="354.94" r="2.35" fill="url(#g8a2ea6)"/><circle cx="251.3" cy="364.96" r="2.35" fill="url(#g8a2ea6)"/><circle cx="254.28" cy="370.43" r="2.35" fill="url(#g8a2ea6)"/><circle cx="257.26" cy="372.93" r="2.35" fill="url(#g8a2ea6)"/><circle cx="260.24" cy="373.9" r="2.35" fill="url(#g8a2ea6)"/><circle cx="263.21" cy="377.73" r="2.35" fill="url(#g8a2ea6)"/><circle cx="266.19" cy="376.51" r="2.35" fill="url(#g8a2ea6)"/><circle cx="269.17" cy="375.52" r="2.35" fill="url(#g8a2ea6)"/><circle cx="272.15" cy="374.81" r="2.35" fill="url(#g8a2ea6)"/><circle cx="275.13" cy="377.52" r="2.35" fill="url(#g8a2ea6)"/><circle cx="278.11" cy="383.9" r="2.35" fill="url(#g8a2ea6)"/><circle cx="281.09" cy="377.35" r="2.35" fill="url(#g8a2ea6)"/><circle cx="284.07" cy="376.64" r="2.35" fill="url(#g8a2ea6)"/><circle cx="287.04" cy="373.83" r="2.35" fill="url(#g8a2ea6)"/><circle cx="290.02" cy="376.13" r="2.35" fill="url(#g8a2ea6)"/><circle cx="293" cy="381.1" r="2.35" fill="url(#g8a2ea6)"/><circle cx="295.98" cy="381.75" r="2.35" fill="url(#g8a2ea6)"/><circle cx="298.96" cy="371.79" r="2.35" fill="url(#g8a2ea6)"/><circle cx="301.94" cy="376.75" r="2.35" fill="url(#g8a2ea6)"/><circle cx="304.92" cy="372.93" r="2.35" fill="url(#g8a2ea6)"/><circle cx="307.9" cy="372.03" r="2.35" fill="url(#g8a2ea6)"/><circle cx="310.87" cy="383.31" r="2.35" fill="url(#g8a2ea6)"/><circle cx="73.44" cy="377.96" r="2.35" fill="url(#g8b9a2e)"/><circle cx="76.42" cy="377.46" r="2.35" fill="url(#g8b9a2e)"/><circle cx="79.4" cy="376.84" r="2.35" fill="url(#g8b9a2e)"/><circle cx="82.37" cy="376.68" r="2.35" fill="url(#g8b9a2e)"/><circle cx="85.35" cy="377.74" r="2.35" fill="url(#g8b9a2e)"/><circle cx="88.33" cy="377.62" r="2.35" fill="url(#g8b9a2e)"/><circle cx="91.31" cy="383.68" r="2.35" fill="url(#g8b9a2e)"/><circle cx="94.29" cy="378.4" r="2.35" fill="url(#g8b9a2e)"/><circle cx="97.27" cy="380.3" r="2.35" fill="url(#g8b9a2e)"/><circle cx="100.25" cy="376.69" r="2.35" fill="url(#g8b9a2e)"/><circle cx="103.23" cy="378.55" r="2.35" fill="url(#g8b9a2e)"/><circle cx="106.2" cy="374.03" r="2.35" fill="url(#g8b9a2e)"/><circle cx="109.18" cy="372.73" r="2.35" fill="url(#g8b9a2e)"/><circle cx="112.16" cy="373.93" r="2.35" fill="url(#g8b9a2e)"/><circle cx="115.14" cy="373.01" r="2.35" fill="url(#g8b9a2e)"/><circle cx="118.12" cy="372.78" r="2.35" fill="url(#g8b9a2e)"/><circle cx="121.1" cy="373.55" r="2.35" fill="url(#g8b9a2e)"/><circle cx="124.08" cy="371.03" r="2.35" fill="url(#g8b9a2e)"/><circle cx="127.06" cy="370.34" r="2.35" fill="url(#g8b9a2e)"/><circle cx="130.03" cy="363.96" r="2.35" fill="url(#g8b9a2e)"/><circle cx="133.01" cy="361.83" r="2.35" fill="url(#g8b9a2e)"/><circle cx="135.99" cy="356.43" r="2.35" fill="url(#g8b9a2e)"/><circle cx="138.97" cy="360.6" r="2.35" fill="url(#g8b9a2e)"/><circle cx="141.95" cy="349.26" r="2.35" fill="url(#g8b9a2e)"/><circle cx="144.93" cy="350.51" r="2.35" fill="url(#g8b9a2e)"/><circle cx="147.91" cy="346.67" r="2.35" fill="url(#g8b9a2e)"/><circle cx="150.89" cy="341.55" r="2.35" fill="url(#g8b9a2e)"/><circle cx="153.86" cy="339.12" r="2.35" fill="url(#g8b9a2e)"/><circle cx="156.84" cy="335.21" r="2.35" fill="url(#g8b9a2e)"/><circle cx="159.82" cy="334.85" r="2.35" fill="url(#g8b9a2e)"/><circle cx="162.8" cy="339.81" r="2.35" fill="url(#g8b9a2e)"/><circle cx="165.78" cy="356.24" r="2.35" fill="url(#g8b9a2e)"/><circle cx="168.76" cy="373.78" r="2.35" fill="url(#g8b9a2e)"/><circle cx="171.74" cy="401.02" r="2.35" fill="url(#g8b9a2e)"/><circle cx="174.72" cy="417.37" r="2.35" fill="url(#g8b9a2e)"/><circle cx="177.69" cy="422.83" r="2.35" fill="url(#g8b9a2e)"/><circle cx="180.67" cy="432.27" r="2.35" fill="url(#g8b9a2e)"/><circle cx="183.65" cy="432.69" r="2.35" fill="url(#g8b9a2e)"/><circle cx="186.63" cy="445.36" r="2.35" fill="url(#g8b9a2e)"/><circle cx="189.61" cy="446.07" r="2.35" fill="url(#g8b9a2e)"/><circle cx="192.59" cy="445.98" r="2.35" fill="url(#g8b9a2e)"/><circle cx="195.57" cy="448.97" r="2.35" fill="url(#g8b9a2e)"/><circle cx="198.55" cy="441.19" r="2.35" fill="url(#g8b9a2e)"/><circle cx="201.52" cy="433.07" r="2.35" fill="url(#g8b9a2e)"/><circle cx="204.5" cy="427.8" r="2.35" fill="url(#g8b9a2e)"/><circle cx="207.48" cy="421.54" r="2.35" fill="url(#g8b9a2e)"/><circle cx="210.46" cy="412.63" r="2.35" fill="url(#g8b9a2e)"/><circle cx="213.44" cy="397.36" r="2.35" fill="url(#g8b9a2e)"/><circle cx="216.42" cy="371.51" r="2.35" fill="url(#g8b9a2e)"/><circle cx="219.4" cy="352.42" r="2.35" fill="url(#g8b9a2e)"/><circle cx="222.38" cy="335.35" r="2.35" fill="url(#g8b9a2e)"/><circle cx="225.35" cy="335.57" r="2.35" fill="url(#g8b9a2e)"/><circle cx="228.33" cy="334.84" r="2.35" fill="url(#g8b9a2e)"/><circle cx="231.31" cy="339.5" r="2.35" fill="url(#g8b9a2e)"/><circle cx="234.29" cy="343.5" r="2.35" fill="url(#g8b9a2e)"/><circle cx="237.27" cy="345.71" r="2.35" fill="url(#g8b9a2e)"/><circle cx="240.25" cy="343.54" r="2.35" fill="url(#g8b9a2e)"/><circle cx="243.23" cy="349.47" r="2.35" fill="url(#g8b9a2e)"/><circle cx="246.21" cy="358.03" r="2.35" fill="url(#g8b9a2e)"/><circle cx="249.18" cy="356.48" r="2.35" fill="url(#g8b9a2e)"/><circle cx="252.16" cy="364.16" r="2.35" fill="url(#g8b9a2e)"/><circle cx="255.14" cy="366.42" r="2.35" fill="url(#g8b9a2e)"/><circle cx="258.12" cy="368.54" r="2.35" fill="url(#g8b9a2e)"/><circle cx="261.1" cy="379.36" r="2.35" fill="url(#g8b9a2e)"/><circle cx="264.08" cy="371.36" r="2.35" fill="url(#g8b9a2e)"/><circle cx="267.06" cy="377.18" r="2.35" fill="url(#g8b9a2e)"/><circle cx="270.04" cy="376.97" r="2.35" fill="url(#g8b9a2e)"/><circle cx="273.01" cy="380.76" r="2.35" fill="url(#g8b9a2e)"/><circle cx="275.99" cy="381.61" r="2.35" fill="url(#g8b9a2e)"/><circle cx="278.97" cy="379.97" r="2.35" fill="url(#g8b9a2e)"/><circle cx="281.95" cy="373.75" r="2.35" fill="url(#g8b9a2e)"/><circle cx="284.93" cy="370.96" r="2.35" fill="url(#g8b9a2e)"/><circle cx="287.91" cy="377.64" r="2.35" fill="url(#g8b9a2e)"/><circle cx="290.89" cy="373.72" r="2.35" fill="url(#g8b9a2e)"/><circle cx="293.87" cy="379.07" r="2.35" fill="url(#g8b9a2e)"/><circle cx="296.84" cy="385.49" r="2.35" fill="url(#g8b9a2e)"/><circle cx="299.82" cy="377.97" r="2.35" fill="url(#g8b9a2e)"/><circle cx="302.8" cy="377.08" r="2.35" fill="url(#g8b9a2e)"/><circle cx="305.78" cy="380.59" r="2.35" fill="url(#g8b9a2e)"/><circle cx="308.76" cy="378.08" r="2.35" fill="url(#g8b9a2e)"/><circle cx="311.74" cy="377.29" r="2.35" fill="url(#g8b9a2e)"/><circle cx="74.3" cy="388.75" r="2.35" fill="url(#gf040f0)"/><circle cx="77.28" cy="392.14" r="2.35" fill="url(#gf040f0)"/><circle cx="80.26" cy="384.99" r="2.35" fill="url(#gf040f0)"/><circle cx="83.24" cy="384.85" r="2.35" fill="url(#gf040f0)"/><circle cx="86.22" cy="385.56" r="2.35" fill="url(#gf040f0)"/><circle cx="89.2" cy="377.92" r="2.35" fill="url(#gf040f0)"/><circle cx="92.17" cy="373.66" r="2.35" fill="url(#gf040f0)"/><circle cx="95.15" cy="385.64" r="2.35" fill="url(#gf040f0)"/><circle cx="98.13" cy="379.27" r="2.35" fill="url(#gf040f0)"/><circle cx="101.11" cy="377.81" r="2.35" fill="url(#gf040f0)"/><circle cx="104.09" cy="378.99" r="2.35" fill="url(#gf040f0)"/><circle cx="107.07" cy="376.98" r="2.35" fill="url(#gf040f0)"/><circle cx="110.05" cy="384.93" r="2.35" fill="url(#gf040f0)"/><circle cx="113.03" cy="378.39" r="2.35" fill="url(#gf040f0)"/><circle cx="116" cy="370.91" r="2.35" fill="url(#gf040f0)"/><circle cx="118.98" cy="377.45" r="2.35" fill="url(#gf040f0)"/><circle cx="121.96" cy="385.05" r="2.35" fill="url(#gf040f0)"/><circle cx="124.94" cy="377.61" r="2.35" fill="url(#gf040f0)"/><circle cx="127.92" cy="373.28" r="2.35" fill="url(#gf040f0)"/><circle cx="130.9" cy="377.19" r="2.35" fill="url(#gf040f0)"/><circle cx="133.88" cy="381.03" r="2.35" fill="url(#gf040f0)"/><circle cx="136.86" cy="367.89" r="2.35" fill="url(#gf040f0)"/><circle cx="139.83" cy="382.42" r="2.35" fill="url(#gf040f0)"/><circle cx="142.81" cy="371.26" r="2.35" fill="url(#gf040f0)"/><circle cx="145.79" cy="372.59" r="2.35" fill="url(#gf040f0)"/><circle cx="148.77" cy="377.73" r="2.35" fill="url(#gf040f0)"/><circle cx="151.75" cy="363.03" r="2.35" fill="url(#gf040f0)"/><circle cx="154.73" cy="367.26" r="2.35" fill="url(#gf040f0)"/><circle cx="157.71" cy="377.17" r="2.35" fill="url(#gf040f0)"/><circle cx="160.69" cy="371.7" r="2.35" fill="url(#gf040f0)"/><circle cx="163.66" cy="382.71" r="2.35" fill="url(#gf040f0)"/><circle cx="166.64" cy="391.02" r="2.35" fill="url(#gf040f0)"/><circle cx="169.62" cy="399.73" r="2.35" fill="url(#gf040f0)"/><circle cx="172.6" cy="403.59" r="2.35" fill="url(#gf040f0)"/><circle cx="175.58" cy="406.24" r="2.35" fill="url(#gf040f0)"/><circle cx="178.56" cy="410.49" r="2.35" fill="url(#gf040f0)"/><circle cx="181.54" cy="413.41" r="2.35" fill="url(#gf040f0)"/><circle cx="184.52" cy="416.09" r="2.35" fill="url(#gf040f0)"/><circle cx="187.49" cy="420.82" r="2.35" fill="url(#gf040f0)"/><circle cx="190.47" cy="418.73" r="2.35" fill="url(#gf040f0)"/><circle cx="193.45" cy="420.28" r="2.35" fill="url(#gf040f0)"/><circle cx="196.43" cy="420.06" r="2.35" fill="url(#gf040f0)"/><circle cx="199.41" cy="417.02" r="2.35" fill="url(#gf040f0)"/><circle cx="202.39" cy="415.72" r="2.35" fill="url(#gf040f0)"/><circle cx="205.37" cy="412.78" r="2.35" fill="url(#gf040f0)"/><circle cx="208.35" cy="405.6" r="2.35" fill="url(#gf040f0)"/><circle cx="211.32" cy="404.44" r="2.35" fill="url(#gf040f0)"/><circle cx="214.3" cy="400.92" r="2.35" fill="url(#gf040f0)"/><circle cx="217.28" cy="391.08" r="2.35" fill="url(#gf040f0)"/><circle cx="220.26" cy="384.6" r="2.35" fill="url(#gf040f0)"/><circle cx="223.24" cy="374.7" r="2.35" fill="url(#gf040f0)"/><circle cx="226.22" cy="375.37" r="2.35" fill="url(#gf040f0)"/><circle cx="229.2" cy="367.62" r="2.35" fill="url(#gf040f0)"/><circle cx="232.18" cy="378.55" r="2.35" fill="url(#gf040f0)"/><circle cx="235.15" cy="363.21" r="2.35" fill="url(#gf040f0)"/><circle cx="238.13" cy="374.92" r="2.35" fill="url(#gf040f0)"/><circle cx="241.11" cy="382.64" r="2.35" fill="url(#gf040f0)"/><circle cx="244.09" cy="376.32" r="2.35" fill="url(#gf040f0)"/><circle cx="247.07" cy="378.36" r="2.35" fill="url(#gf040f0)"/><circle cx="250.05" cy="376.65" r="2.35" fill="url(#gf040f0)"/><circle cx="253.03" cy="385.36" r="2.35" fill="url(#gf040f0)"/><circle cx="256.01" cy="377.92" r="2.35" fill="url(#gf040f0)"/><circle cx="258.98" cy="360.47" r="2.35" fill="url(#gf040f0)"/><circle cx="261.96" cy="388.63" r="2.35" fill="url(#gf040f0)"/><circle cx="264.94" cy="379.98" r="2.35" fill="url(#gf040f0)"/><circle cx="267.92" cy="383.99" r="2.35" fill="url(#gf040f0)"/><circle cx="270.9" cy="381.42" r="2.35" fill="url(#gf040f0)"/><circle cx="273.88" cy="392.9" r="2.35" fill="url(#gf040f0)"/><circle cx="276.86" cy="389.33" r="2.35" fill="url(#gf040f0)"/><circle cx="279.84" cy="380.38" r="2.35" fill="url(#gf040f0)"/><circle cx="282.81" cy="383.3" r="2.35" fill="url(#gf040f0)"/><circle cx="285.79" cy="373.97" r="2.35" fill="url(#gf040f0)"/><circle cx="288.77" cy="387.24" r="2.35" fill="url(#gf040f0)"/><circle cx="291.75" cy="382.38" r="2.35" fill="url(#gf040f0)"/><circle cx="294.73" cy="367.04" r="2.35" fill="url(#gf040f0)"/><circle cx="297.71" cy="387.86" r="2.35" fill="url(#gf040f0)"/><circle cx="300.69" cy="388.73" r="2.35" fill="url(#gf040f0)"/><circle cx="303.67" cy="383.92" r="2.35" fill="url(#gf040f0)"/><circle cx="306.64" cy="384.05" r="2.35" fill="url(#gf040f0)"/><circle cx="309.62" cy="379.11" r="2.35" fill="url(#gf040f0)"/><circle cx="75.17" cy="383.26" r="2.35" fill="url(#g2a2af0)"/><circle cx="78.14" cy="388.18" r="2.35" fill="url(#g2a2af0)"/><circle cx="81.12" cy="382.66" r="2.35" fill="url(#g2a2af0)"/><circle cx="84.1" cy="368.91" r="2.35" fill="url(#g2a2af0)"/><circle cx="87.08" cy="376.52" r="2.35" fill="url(#g2a2af0)"/><circle cx="90.06" cy="399.28" r="2.35" fill="url(#g2a2af0)"/><circle cx="93.04" cy="384.32" r="2.35" fill="url(#g2a2af0)"/><circle cx="96.02" cy="388.37" r="2.35" fill="url(#g2a2af0)"/><circle cx="99" cy="379.85" r="2.35" fill="url(#g2a2af0)"/><circle cx="101.97" cy="384.24" r="2.35" fill="url(#g2a2af0)"/><circle cx="104.95" cy="372.27" r="2.35" fill="url(#g2a2af0)"/><circle cx="107.93" cy="377.79" r="2.35" fill="url(#g2a2af0)"/><circle cx="110.91" cy="377.88" r="2.35" fill="url(#g2a2af0)"/><circle cx="113.89" cy="381.67" r="2.35" fill="url(#g2a2af0)"/><circle cx="116.87" cy="382.7" r="2.35" fill="url(#g2a2af0)"/><circle cx="119.85" cy="380.23" r="2.35" fill="url(#g2a2af0)"/><circle cx="122.83" cy="374.43" r="2.35" fill="url(#g2a2af0)"/><circle cx="125.8" cy="378.21" r="2.35" fill="url(#g2a2af0)"/><circle cx="128.78" cy="382.52" r="2.35" fill="url(#g2a2af0)"/><circle cx="131.76" cy="372.19" r="2.35" fill="url(#g2a2af0)"/><circle cx="134.74" cy="377" r="2.35" fill="url(#g2a2af0)"/><circle cx="137.72" cy="377.38" r="2.35" fill="url(#g2a2af0)"/><circle cx="140.7" cy="380.28" r="2.35" fill="url(#g2a2af0)"/><circle cx="143.68" cy="377.78" r="2.35" fill="url(#g2a2af0)"/><circle cx="146.66" cy="376.6" r="2.35" fill="url(#g2a2af0)"/><circle cx="149.63" cy="387.54" r="2.35" fill="url(#g2a2af0)"/><circle cx="152.61" cy="365.12" r="2.35" fill="url(#g2a2af0)"/><circle cx="155.59" cy="367.24" r="2.35" fill="url(#g2a2af0)"/><circle cx="158.57" cy="374.01" r="2.35" fill="url(#g2a2af0)"/><circle cx="161.55" cy="371.22" r="2.35" fill="url(#g2a2af0)"/><circle cx="164.53" cy="379.87" r="2.35" fill="url(#g2a2af0)"/><circle cx="167.51" cy="390.71" r="2.35" fill="url(#g2a2af0)"/><circle cx="170.49" cy="402.76" r="2.35" fill="url(#g2a2af0)"/><circle cx="173.46" cy="403.3" r="2.35" fill="url(#g2a2af0)"/><circle cx="176.44" cy="404.77" r="2.35" fill="url(#g2a2af0)"/><circle cx="179.42" cy="406.56" r="2.35" fill="url(#g2a2af0)"/><circle cx="182.4" cy="408.37" r="2.35" fill="url(#g2a2af0)"/><circle cx="185.38" cy="412.33" r="2.35" fill="url(#g2a2af0)"/><circle cx="188.36" cy="418.49" r="2.35" fill="url(#g2a2af0)"/><circle cx="191.34" cy="420.05" r="2.35" fill="url(#g2a2af0)"/><circle cx="194.32" cy="415.89" r="2.35" fill="url(#g2a2af0)"/><circle cx="197.29" cy="416.71" r="2.35" fill="url(#g2a2af0)"/><circle cx="200.27" cy="411.89" r="2.35" fill="url(#g2a2af0)"/><circle cx="203.25" cy="410.6" r="2.35" fill="url(#g2a2af0)"/><circle cx="206.23" cy="407.58" r="2.35" fill="url(#g2a2af0)"/><circle cx="209.21" cy="407.04" r="2.35" fill="url(#g2a2af0)"/><circle cx="212.19" cy="401.22" r="2.35" fill="url(#g2a2af0)"/><circle cx="215.17" cy="397.73" r="2.35" fill="url(#g2a2af0)"/><circle cx="218.15" cy="386.98" r="2.35" fill="url(#g2a2af0)"/><circle cx="221.12" cy="377.93" r="2.35" fill="url(#g2a2af0)"/><circle cx="224.1" cy="376.41" r="2.35" fill="url(#g2a2af0)"/><circle cx="227.08" cy="369.85" r="2.35" fill="url(#g2a2af0)"/><circle cx="230.06" cy="370.56" r="2.35" fill="url(#g2a2af0)"/><circle cx="233.04" cy="366.84" r="2.35" fill="url(#g2a2af0)"/><circle cx="236.02" cy="369.32" r="2.35" fill="url(#g2a2af0)"/><circle cx="239" cy="376.63" r="2.35" fill="url(#g2a2af0)"/><circle cx="241.98" cy="378.32" r="2.35" fill="url(#g2a2af0)"/><circle cx="244.95" cy="366.36" r="2.35" fill="url(#g2a2af0)"/><circle cx="247.93" cy="377.87" r="2.35" fill="url(#g2a2af0)"/><circle cx="250.91" cy="372.89" r="2.35" fill="url(#g2a2af0)"/><circle cx="253.89" cy="377.57" r="2.35" fill="url(#g2a2af0)"/><circle cx="256.87" cy="383.99" r="2.35" fill="url(#g2a2af0)"/><circle cx="259.85" cy="385.61" r="2.35" fill="url(#g2a2af0)"/><circle cx="262.83" cy="381.19" r="2.35" fill="url(#g2a2af0)"/><circle cx="265.81" cy="380.81" r="2.35" fill="url(#g2a2af0)"/><circle cx="268.78" cy="379.1" r="2.35" fill="url(#g2a2af0)"/><circle cx="271.76" cy="389.92" r="2.35" fill="url(#g2a2af0)"/><circle cx="274.74" cy="386.3" r="2.35" fill="url(#g2a2af0)"/><circle cx="277.72" cy="383.62" r="2.35" fill="url(#g2a2af0)"/><circle cx="280.7" cy="374.18" r="2.35" fill="url(#g2a2af0)"/><circle cx="283.68" cy="396.59" r="2.35" fill="url(#g2a2af0)"/><circle cx="286.66" cy="380.91" r="2.35" fill="url(#g2a2af0)"/><circle cx="289.64" cy="386.5" r="2.35" fill="url(#g2a2af0)"/><circle cx="292.61" cy="381.12" r="2.35" fill="url(#g2a2af0)"/><circle cx="295.59" cy="386.4" r="2.35" fill="url(#g2a2af0)"/><circle cx="298.57" cy="381.66" r="2.35" fill="url(#g2a2af0)"/><circle cx="301.55" cy="374.98" r="2.35" fill="url(#g2a2af0)"/><circle cx="304.53" cy="381.88" r="2.35" fill="url(#g2a2af0)"/><circle cx="307.51" cy="381.5" r="2.35" fill="url(#g2a2af0)"/><circle cx="310.49" cy="381.91" r="2.35" fill="url(#g2a2af0)"/><circle cx="73.05" cy="388.25" r="2.35" fill="url(#gec2a2a)"/><circle cx="76.03" cy="380.91" r="2.35" fill="url(#gec2a2a)"/><circle cx="79.01" cy="385.08" r="2.35" fill="url(#gec2a2a)"/><circle cx="81.99" cy="388.4" r="2.35" fill="url(#gec2a2a)"/><circle cx="84.97" cy="383.96" r="2.35" fill="url(#gec2a2a)"/><circle cx="87.94" cy="384.94" r="2.35" fill="url(#gec2a2a)"/><circle cx="90.92" cy="379.33" r="2.35" fill="url(#gec2a2a)"/><circle cx="93.9" cy="383.74" r="2.35" fill="url(#gec2a2a)"/><circle cx="96.88" cy="386.4" r="2.35" fill="url(#gec2a2a)"/><circle cx="99.86" cy="375.13" r="2.35" fill="url(#gec2a2a)"/><circle cx="102.84" cy="377.67" r="2.35" fill="url(#gec2a2a)"/><circle cx="105.82" cy="375.97" r="2.35" fill="url(#gec2a2a)"/><circle cx="108.8" cy="379.58" r="2.35" fill="url(#gec2a2a)"/><circle cx="111.77" cy="383.47" r="2.35" fill="url(#gec2a2a)"/><circle cx="114.75" cy="385.02" r="2.35" fill="url(#gec2a2a)"/><circle cx="117.73" cy="383.96" r="2.35" fill="url(#gec2a2a)"/><circle cx="120.71" cy="376.69" r="2.35" fill="url(#gec2a2a)"/><circle cx="123.69" cy="380.96" r="2.35" fill="url(#gec2a2a)"/><circle cx="126.67" cy="389.4" r="2.35" fill="url(#gec2a2a)"/><circle cx="129.65" cy="380.46" r="2.35" fill="url(#gec2a2a)"/><circle cx="132.63" cy="386.97" r="2.35" fill="url(#gec2a2a)"/><circle cx="135.6" cy="376.81" r="2.35" fill="url(#gec2a2a)"/><circle cx="138.58" cy="383.41" r="2.35" fill="url(#gec2a2a)"/><circle cx="141.56" cy="382.6" r="2.35" fill="url(#gec2a2a)"/><circle cx="144.54" cy="373.52" r="2.35" fill="url(#gec2a2a)"/><circle cx="147.52" cy="373.03" r="2.35" fill="url(#gec2a2a)"/><circle cx="150.5" cy="380.86" r="2.35" fill="url(#gec2a2a)"/><circle cx="153.48" cy="366.44" r="2.35" fill="url(#gec2a2a)"/><circle cx="156.46" cy="358.49" r="2.35" fill="url(#gec2a2a)"/><circle cx="159.43" cy="382.37" r="2.35" fill="url(#gec2a2a)"/><circle cx="162.41" cy="368.21" r="2.35" fill="url(#gec2a2a)"/><circle cx="165.39" cy="387.92" r="2.35" fill="url(#gec2a2a)"/><circle cx="168.37" cy="392.69" r="2.35" fill="url(#gec2a2a)"/><circle cx="171.35" cy="397.08" r="2.35" fill="url(#gec2a2a)"/><circle cx="174.33" cy="401.58" r="2.35" fill="url(#gec2a2a)"/><circle cx="177.31" cy="399.43" r="2.35" fill="url(#gec2a2a)"/><circle cx="180.29" cy="403.1" r="2.35" fill="url(#gec2a2a)"/><circle cx="183.26" cy="406.75" r="2.35" fill="url(#gec2a2a)"/><circle cx="186.24" cy="408.93" r="2.35" fill="url(#gec2a2a)"/><circle cx="189.22" cy="411.51" r="2.35" fill="url(#gec2a2a)"/><circle cx="192.2" cy="409.76" r="2.35" fill="url(#gec2a2a)"/><circle cx="195.18" cy="407.83" r="2.35" fill="url(#gec2a2a)"/><circle cx="198.16" cy="411.42" r="2.35" fill="url(#gec2a2a)"/><circle cx="201.14" cy="406.52" r="2.35" fill="url(#gec2a2a)"/><circle cx="204.12" cy="403.78" r="2.35" fill="url(#gec2a2a)"/><circle cx="207.09" cy="400.08" r="2.35" fill="url(#gec2a2a)"/><circle cx="210.07" cy="397.59" r="2.35" fill="url(#gec2a2a)"/><circle cx="213.05" cy="397.81" r="2.35" fill="url(#gec2a2a)"/><circle cx="216.03" cy="393.7" r="2.35" fill="url(#gec2a2a)"/><circle cx="219.01" cy="383.98" r="2.35" fill="url(#gec2a2a)"/><circle cx="221.99" cy="381.01" r="2.35" fill="url(#gec2a2a)"/><circle cx="224.97" cy="376.21" r="2.35" fill="url(#gec2a2a)"/><circle cx="227.95" cy="364.78" r="2.35" fill="url(#gec2a2a)"/><circle cx="230.92" cy="361.08" r="2.35" fill="url(#gec2a2a)"/><circle cx="233.9" cy="369.9" r="2.35" fill="url(#gec2a2a)"/><circle cx="236.88" cy="373.55" r="2.35" fill="url(#gec2a2a)"/><circle cx="239.86" cy="370.81" r="2.35" fill="url(#gec2a2a)"/><circle cx="242.84" cy="386" r="2.35" fill="url(#gec2a2a)"/><circle cx="245.82" cy="376.62" r="2.35" fill="url(#gec2a2a)"/><circle cx="248.8" cy="383.6" r="2.35" fill="url(#gec2a2a)"/><circle cx="251.78" cy="365.4" r="2.35" fill="url(#gec2a2a)"/><circle cx="254.75" cy="376.07" r="2.35" fill="url(#gec2a2a)"/><circle cx="257.73" cy="380.2" r="2.35" fill="url(#gec2a2a)"/><circle cx="260.71" cy="382.63" r="2.35" fill="url(#gec2a2a)"/><circle cx="263.69" cy="396.16" r="2.35" fill="url(#gec2a2a)"/><circle cx="266.67" cy="378.34" r="2.35" fill="url(#gec2a2a)"/><circle cx="269.65" cy="373.46" r="2.35" fill="url(#gec2a2a)"/><circle cx="272.63" cy="386.94" r="2.35" fill="url(#gec2a2a)"/><circle cx="275.61" cy="379.14" r="2.35" fill="url(#gec2a2a)"/><circle cx="278.58" cy="379.05" r="2.35" fill="url(#gec2a2a)"/><circle cx="281.56" cy="391.95" r="2.35" fill="url(#gec2a2a)"/><circle cx="284.54" cy="378.05" r="2.35" fill="url(#gec2a2a)"/><circle cx="287.52" cy="375.77" r="2.35" fill="url(#gec2a2a)"/><circle cx="290.5" cy="382.2" r="2.35" fill="url(#gec2a2a)"/><circle cx="293.48" cy="383.93" r="2.35" fill="url(#gec2a2a)"/><circle cx="296.46" cy="379.22" r="2.35" fill="url(#gec2a2a)"/><circle cx="299.44" cy="392.42" r="2.35" fill="url(#gec2a2a)"/><circle cx="302.41" cy="383.29" r="2.35" fill="url(#gec2a2a)"/><circle cx="305.39" cy="377.95" r="2.35" fill="url(#gec2a2a)"/><circle cx="308.37" cy="390.96" r="2.35" fill="url(#gec2a2a)"/><circle cx="311.35" cy="378.43" r="2.35" fill="url(#gec2a2a)"/><circle cx="73.91" cy="388.27" r="2.35" fill="url(#g555555)"/><circle cx="76.89" cy="397.66" r="2.35" fill="url(#g555555)"/><circle cx="79.87" cy="386.55" r="2.35" fill="url(#g555555)"/><circle cx="82.85" cy="391.46" r="2.35" fill="url(#g555555)"/><circle cx="85.83" cy="384.21" r="2.35" fill="url(#g555555)"/><circle cx="88.81" cy="392.64" r="2.35" fill="url(#g555555)"/><circle cx="91.79" cy="380.15" r="2.35" fill="url(#g555555)"/><circle cx="94.77" cy="390.26" r="2.35" fill="url(#g555555)"/><circle cx="97.74" cy="384.12" r="2.35" fill="url(#g555555)"/><circle cx="100.72" cy="389.5" r="2.35" fill="url(#g555555)"/><circle cx="103.7" cy="388.01" r="2.35" fill="url(#g555555)"/><circle cx="106.68" cy="379.51" r="2.35" fill="url(#g555555)"/><circle cx="109.66" cy="385.06" r="2.35" fill="url(#g555555)"/><circle cx="112.64" cy="388.55" r="2.35" fill="url(#g555555)"/><circle cx="115.62" cy="393.45" r="2.35" fill="url(#g555555)"/><circle cx="118.6" cy="379.97" r="2.35" fill="url(#g555555)"/><circle cx="121.57" cy="382.51" r="2.35" fill="url(#g555555)"/><circle cx="124.55" cy="388.65" r="2.35" fill="url(#g555555)"/><circle cx="127.53" cy="385.65" r="2.35" fill="url(#g555555)"/><circle cx="130.51" cy="393.2" r="2.35" fill="url(#g555555)"/><circle cx="133.49" cy="393.57" r="2.35" fill="url(#g555555)"/><circle cx="136.47" cy="392.91" r="2.35" fill="url(#g555555)"/><circle cx="139.45" cy="386.66" r="2.35" fill="url(#g555555)"/><circle cx="142.43" cy="387.42" r="2.35" fill="url(#g555555)"/><circle cx="145.4" cy="393.84" r="2.35" fill="url(#g555555)"/><circle cx="148.38" cy="385.9" r="2.35" fill="url(#g555555)"/><circle cx="151.36" cy="385.94" r="2.35" fill="url(#g555555)"/><circle cx="154.34" cy="389.43" r="2.35" fill="url(#g555555)"/><circle cx="157.32" cy="383.58" r="2.35" fill="url(#g555555)"/><circle cx="160.3" cy="389.67" r="2.35" fill="url(#g555555)"/><circle cx="163.28" cy="386.99" r="2.35" fill="url(#g555555)"/><circle cx="166.26" cy="392.67" r="2.35" fill="url(#g555555)"/><circle cx="169.23" cy="403.22" r="2.35" fill="url(#g555555)"/><circle cx="172.21" cy="407.01" r="2.35" fill="url(#g555555)"/><circle cx="175.19" cy="413.45" r="2.35" fill="url(#g555555)"/><circle cx="178.17" cy="413.63" r="2.35" fill="url(#g555555)"/><circle cx="181.15" cy="419.81" r="2.35" fill="url(#g555555)"/><circle cx="184.13" cy="422.68" r="2.35" fill="url(#g555555)"/><circle cx="187.11" cy="428.83" r="2.35" fill="url(#g555555)"/><circle cx="190.09" cy="425.86" r="2.35" fill="url(#g555555)"/><circle cx="193.06" cy="424.85" r="2.35" fill="url(#g555555)"/><circle cx="196.04" cy="425.15" r="2.35" fill="url(#g555555)"/><circle cx="199.02" cy="423.78" r="2.35" fill="url(#g555555)"/><circle cx="202" cy="422.7" r="2.35" fill="url(#g555555)"/><circle cx="204.98" cy="418.63" r="2.35" fill="url(#g555555)"/><circle cx="207.96" cy="414.16" r="2.35" fill="url(#g555555)"/><circle cx="210.94" cy="411.53" r="2.35" fill="url(#g555555)"/><circle cx="213.92" cy="404.42" r="2.35" fill="url(#g555555)"/><circle cx="216.89" cy="398.86" r="2.35" fill="url(#g555555)"/><circle cx="219.87" cy="386.41" r="2.35" fill="url(#g555555)"/><circle cx="222.85" cy="384.47" r="2.35" fill="url(#g555555)"/><circle cx="225.83" cy="394.07" r="2.35" fill="url(#g555555)"/><circle cx="228.81" cy="395.14" r="2.35" fill="url(#g555555)"/><circle cx="231.79" cy="395.41" r="2.35" fill="url(#g555555)"/><circle cx="234.77" cy="387.43" r="2.35" fill="url(#g555555)"/><circle cx="237.75" cy="387.95" r="2.35" fill="url(#g555555)"/><circle cx="240.72" cy="386.11" r="2.35" fill="url(#g555555)"/><circle cx="243.7" cy="382.8" r="2.35" fill="url(#g555555)"/><circle cx="246.68" cy="396.11" r="2.35" fill="url(#g555555)"/><circle cx="249.66" cy="391.23" r="2.35" fill="url(#g555555)"/><circle cx="252.64" cy="386.81" r="2.35" fill="url(#g555555)"/><circle cx="255.62" cy="394.79" r="2.35" fill="url(#g555555)"/><circle cx="258.6" cy="389.91" r="2.35" fill="url(#g555555)"/><circle cx="261.58" cy="381.01" r="2.35" fill="url(#g555555)"/><circle cx="264.55" cy="380.36" r="2.35" fill="url(#g555555)"/><circle cx="267.53" cy="380.39" r="2.35" fill="url(#g555555)"/><circle cx="270.51" cy="386.12" r="2.35" fill="url(#g555555)"/><circle cx="273.49" cy="387.49" r="2.35" fill="url(#g555555)"/><circle cx="276.47" cy="380.17" r="2.35" fill="url(#g555555)"/><circle cx="279.45" cy="388.31" r="2.35" fill="url(#g555555)"/><circle cx="282.43" cy="384.27" r="2.35" fill="url(#g555555)"/><circle cx="285.41" cy="378.68" r="2.35" fill="url(#g555555)"/><circle cx="288.38" cy="388.18" r="2.35" fill="url(#g555555)"/><circle cx="291.36" cy="389.52" r="2.35" fill="url(#g555555)"/><circle cx="294.34" cy="386.11" r="2.35" fill="url(#g555555)"/><circle cx="297.32" cy="382.65" r="2.35" fill="url(#g555555)"/><circle cx="300.3" cy="383.28" r="2.35" fill="url(#g555555)"/><circle cx="303.28" cy="385.09" r="2.35" fill="url(#g555555)"/><circle cx="306.26" cy="382.81" r="2.35" fill="url(#g555555)"/><circle cx="309.24" cy="394.94" r="2.35" fill="url(#g555555)"/></g>
<path d="M73.2,376.8 L73.8,376.72 L74.39,376.64 L74.99,376.55 L75.58,376.46 L76.18,376.37 L76.77,376.27 L77.37,376.18 L77.97,376.07 L78.56,375.97 L79.16,375.86 L79.75,375.75 L80.35,375.63 L80.94,375.52 L81.54,375.4 L82.14,375.27 L82.73,375.15 L83.33,375.02 L83.92,374.89 L84.52,374.76 L85.11,374.62 L85.71,374.49 L86.31,374.35 L86.9,374.21 L87.5,374.07 L88.09,373.92 L88.69,373.78 L89.29,373.63 L89.88,373.49 L90.48,373.34 L91.07,373.19 L91.67,373.04 L92.26,372.89 L92.86,372.73 L93.46,372.58 L94.05,372.43 L94.65,372.28 L95.24,372.12 L95.84,371.97 L96.43,371.81 L97.03,371.65 L97.63,371.49 L98.22,371.33 L98.82,371.17 L99.41,371 L100.01,370.83 L100.6,370.66 L101.2,370.49 L101.8,370.31 L102.39,370.12 L102.99,369.93 L103.58,369.74 L104.18,369.55 L104.77,369.34 L105.37,369.14 L105.97,368.92 L106.56,368.7 L107.16,368.48 L107.75,368.25 L108.35,368.01 L108.95,367.76 L109.54,367.51 L110.14,367.25 L110.73,366.98 L111.33,366.69 L111.92,366.4 L112.52,366.09 L113.12,365.76 L113.71,365.41 L114.31,365.03 L114.9,364.63 L115.5,364.2 L116.09,363.74 L116.69,363.25 L117.29,362.75 L117.88,362.22 L118.48,361.67 L119.07,361.1 L119.67,360.51 L120.26,359.92 L120.86,359.31 L121.46,358.69 L122.05,358.07 L122.65,357.44 L123.24,356.81 L123.84,356.17 L124.43,355.54 L125.03,354.91 L125.63,354.28 L126.22,353.66 L126.82,353.05 L127.41,352.43 L128.01,351.82 L128.6,351.21 L129.2,350.59 L129.8,349.96 L130.39,349.33 L130.99,348.67 L131.58,348 L132.18,347.31 L132.78,346.59 L133.37,345.84 L133.97,345.06 L134.56,344.25 L135.16,343.4 L135.75,342.51 L136.35,341.6 L136.95,340.64 L137.54,339.65 L138.14,338.63 L138.73,337.57 L139.33,336.47 L139.92,335.33 L140.52,334.14 L141.12,332.91 L141.71,331.62 L142.31,330.26 L142.9,328.82 L143.5,327.3 L144.09,325.74 L144.69,324.16 L145.29,322.6 L145.88,321.1 L146.48,319.66 L147.07,318.31 L147.67,317.04 L148.26,315.83 L148.86,314.7 L149.46,313.65 L150.05,312.71 L150.65,311.89 L151.24,311.26 L151.84,310.84 L152.43,310.71 L153.03,310.92 L153.63,311.53 L154.22,312.57 L154.82,314.05 L155.41,315.95 L156.01,318.2 L156.61,320.74 L157.2,323.49 L157.8,326.38 L158.39,329.35 L158.99,332.35 L159.58,335.38 L160.18,338.47 L160.78,341.65 L161.37,345.02 L161.97,348.68 L162.56,352.77 L163.16,357.48 L163.75,363.02 L164.35,369.6 L164.95,377.3 L165.54,386.04 L166.14,395.39 L166.73,404.99 L167.33,414.33 L167.92,422.97 L168.52,430.66 L169.12,437.3 L169.71,442.93 L170.31,447.67 L170.9,451.66 L171.5,455.05 L172.09,457.96 L172.69,460.48 L173.29,462.67 L173.88,464.6 L174.48,466.3 L175.07,467.82 L175.67,469.19 L176.26,470.44 L176.86,471.57 L177.46,472.59 L178.05,473.49 L178.65,474.26 L179.24,474.89 L179.84,475.39 L180.44,475.76 L181.03,476.02 L181.63,476.2 L182.22,476.32 L182.82,476.4 L183.41,476.47 L184.01,476.52 L184.61,476.57 L185.2,476.61 L185.8,476.65 L186.39,476.68 L186.99,476.71 L187.58,476.74 L188.18,476.76 L188.78,476.78 L189.37,476.8 L189.97,476.81 L190.56,476.82 L191.16,476.83 L191.75,476.84 L192.35,476.84 L192.95,476.84 L193.54,476.83 L194.14,476.82 L194.73,476.81 L195.33,476.8 L195.92,476.78 L196.52,476.76 L197.12,476.74 L197.71,476.71 L198.31,476.68 L198.9,476.65 L199.5,476.61 L200.09,476.57 L200.69,476.52 L201.29,476.47 L201.88,476.4 L202.48,476.32 L203.07,476.2 L203.67,476.02 L204.27,475.76 L204.86,475.39 L205.46,474.89 L206.05,474.26 L206.65,473.49 L207.24,472.59 L207.84,471.57 L208.44,470.44 L209.03,469.19 L209.63,467.82 L210.22,466.3 L210.82,464.6 L211.41,462.67 L212.01,460.48 L212.61,457.96 L213.2,455.05 L213.8,451.66 L214.39,447.67 L214.99,442.93 L215.58,437.3 L216.18,430.66 L216.78,422.97 L217.37,414.33 L217.97,404.99 L218.56,395.39 L219.16,386.04 L219.75,377.3 L220.35,369.6 L220.95,363.02 L221.54,357.48 L222.14,352.77 L222.73,348.68 L223.33,345.02 L223.92,341.65 L224.52,338.47 L225.12,335.38 L225.71,332.35 L226.31,329.35 L226.9,326.38 L227.5,323.49 L228.1,320.74 L228.69,318.2 L229.29,315.95 L229.88,314.05 L230.48,312.57 L231.07,311.53 L231.67,310.92 L232.27,310.71 L232.86,310.84 L233.46,311.26 L234.05,311.89 L234.65,312.71 L235.24,313.65 L235.84,314.7 L236.44,315.83 L237.03,317.04 L237.63,318.31 L238.22,319.66 L238.82,321.1 L239.41,322.6 L240.01,324.16 L240.61,325.74 L241.2,327.3 L241.8,328.82 L242.39,330.26 L242.99,331.62 L243.58,332.91 L244.18,334.14 L244.78,335.33 L245.37,336.47 L245.97,337.57 L246.56,338.63 L247.16,339.65 L247.75,340.64 L248.35,341.6 L248.95,342.51 L249.54,343.4 L250.14,344.25 L250.73,345.06 L251.33,345.84 L251.93,346.59 L252.52,347.31 L253.12,348 L253.71,348.67 L254.31,349.33 L254.9,349.96 L255.5,350.59 L256.1,351.21 L256.69,351.82 L257.29,352.43 L257.88,353.05 L258.48,353.66 L259.07,354.28 L259.67,354.91 L260.27,355.54 L260.86,356.17 L261.46,356.81 L262.05,357.44 L262.65,358.07 L263.24,358.69 L263.84,359.31 L264.44,359.92 L265.03,360.51 L265.63,361.1 L266.22,361.67 L266.82,362.22 L267.41,362.75 L268.01,363.25 L268.61,363.74 L269.2,364.2 L269.8,364.63 L270.39,365.03 L270.99,365.41 L271.58,365.76 L272.18,366.09 L272.78,366.4 L273.37,366.69 L273.97,366.98 L274.56,367.25 L275.16,367.51 L275.75,367.76 L276.35,368.01 L276.95,368.25 L277.54,368.48 L278.14,368.7 L278.73,368.92 L279.33,369.14 L279.93,369.34 L280.52,369.55 L281.12,369.74 L281.71,369.93 L282.31,370.12 L282.9,370.31 L283.5,370.49 L284.1,370.66 L284.69,370.83 L285.29,371 L285.88,371.17 L286.48,371.33 L287.07,371.49 L287.67,371.65 L288.27,371.81 L288.86,371.97 L289.46,372.12 L290.05,372.28 L290.65,372.43 L291.24,372.58 L291.84,372.73 L292.44,372.89 L293.03,373.04 L293.63,373.19 L294.22,373.34 L294.82,373.49 L295.41,373.63 L296.01,373.78 L296.61,373.92 L297.2,374.07 L297.8,374.21 L298.39,374.35 L298.99,374.49 L299.59,374.62 L300.18,374.76 L300.78,374.89 L301.37,375.02 L301.97,375.15 L302.56,375.27 L303.16,375.4 L303.76,375.52 L304.35,375.63 L304.95,375.75 L305.54,375.86 L306.14,375.97 L306.73,376.07 L307.33,376.18 L307.93,376.27 L308.52,376.37 L309.12,376.46 L309.71,376.55 L310.31,376.64 L310.9,376.72 L311.5,376.8" fill="none" stroke="#111" stroke-width="1.2" stroke-linejoin="round" />
<path d="M73.2,379.12 L73.8,379.05 L74.39,378.99 L74.99,378.92 L75.58,378.85 L76.18,378.78 L76.77,378.71 L77.37,378.65 L77.97,378.58 L78.56,378.51 L79.16,378.44 L79.75,378.37 L80.35,378.3 L80.94,378.23 L81.54,378.16 L82.14,378.09 L82.73,378.01 L83.33,377.94 L83.92,377.86 L84.52,377.78 L85.11,377.7 L85.71,377.61 L86.31,377.52 L86.9,377.42 L87.5,377.33 L88.09,377.23 L88.69,377.12 L89.29,377.02 L89.88,376.91 L90.48,376.79 L91.07,376.68 L91.67,376.56 L92.26,376.44 L92.86,376.32 L93.46,376.2 L94.05,376.07 L94.65,375.94 L95.24,375.81 L95.84,375.68 L96.43,375.55 L97.03,375.41 L97.63,375.28 L98.22,375.14 L98.82,375 L99.41,374.86 L100.01,374.72 L100.6,374.58 L101.2,374.44 L101.8,374.29 L102.39,374.15 L102.99,374 L103.58,373.86 L104.18,373.71 L104.77,373.56 L105.37,373.41 L105.97,373.26 L106.56,373.11 L107.16,372.95 L107.75,372.79 L108.35,372.63 L108.95,372.46 L109.54,372.29 L110.14,372.11 L110.73,371.93 L111.33,371.75 L111.92,371.56 L112.52,371.36 L113.12,371.16 L113.71,370.95 L114.31,370.74 L114.9,370.52 L115.5,370.29 L116.09,370.05 L116.69,369.8 L117.29,369.55 L117.88,369.28 L118.48,369 L119.07,368.7 L119.67,368.38 L120.26,368.04 L120.86,367.67 L121.46,367.28 L122.05,366.86 L122.65,366.41 L123.24,365.94 L123.84,365.45 L124.43,364.94 L125.03,364.42 L125.63,363.87 L126.22,363.32 L126.82,362.75 L127.41,362.17 L128.01,361.59 L128.6,361.01 L129.2,360.42 L129.8,359.83 L130.39,359.25 L130.99,358.66 L131.58,358.08 L132.18,357.5 L132.78,356.93 L133.37,356.35 L133.97,355.77 L134.56,355.18 L135.16,354.59 L135.75,353.97 L136.35,353.34 L136.95,352.69 L137.54,352.01 L138.14,351.31 L138.73,350.57 L139.33,349.8 L139.92,349 L140.52,348.16 L141.12,347.29 L141.71,346.38 L142.31,345.43 L142.9,344.45 L143.5,343.42 L144.09,342.35 L144.69,341.23 L145.29,340.06 L145.88,338.83 L146.48,337.54 L147.07,336.2 L147.67,334.81 L148.26,333.4 L148.86,331.99 L149.46,330.61 L150.05,329.28 L150.65,328.02 L151.24,326.82 L151.84,325.71 L152.43,324.69 L153.03,323.78 L153.63,323 L154.22,322.39 L154.82,321.99 L155.41,321.85 L156.01,322.03 L156.61,322.57 L157.2,323.48 L157.8,324.79 L158.39,326.46 L158.99,328.47 L159.58,330.74 L160.18,333.22 L160.78,335.86 L161.37,338.6 L161.97,341.43 L162.56,344.37 L163.16,347.46 L163.75,350.77 L164.35,354.43 L164.95,358.56 L165.54,363.34 L166.14,368.88 L166.73,375.27 L167.33,382.46 L167.92,390.09 L168.52,397.94 L169.12,405.79 L169.71,413.31 L170.31,420.24 L170.9,426.39 L171.5,431.72 L172.09,436.25 L172.69,440.07 L173.29,443.29 L173.88,446.01 L174.48,448.32 L175.07,450.31 L175.67,452.04 L176.26,453.55 L176.86,454.88 L177.46,456.07 L178.05,457.12 L178.65,458.05 L179.24,458.85 L179.84,459.53 L180.44,460.08 L181.03,460.52 L181.63,460.85 L182.22,461.09 L182.82,461.26 L183.41,461.38 L184.01,461.47 L184.61,461.53 L185.2,461.58 L185.8,461.62 L186.39,461.66 L186.99,461.69 L187.58,461.72 L188.18,461.74 L188.78,461.76 L189.37,461.78 L189.97,461.79 L190.56,461.8 L191.16,461.81 L191.75,461.81 L192.35,461.81 L192.95,461.81 L193.54,461.81 L194.14,461.8 L194.73,461.79 L195.33,461.78 L195.92,461.76 L196.52,461.74 L197.12,461.72 L197.71,461.69 L198.31,461.66 L198.9,461.62 L199.5,461.58 L200.09,461.53 L200.69,461.47 L201.29,461.38 L201.88,461.26 L202.48,461.09 L203.07,460.85 L203.67,460.52 L204.27,460.08 L204.86,459.53 L205.46,458.85 L206.05,458.05 L206.65,457.12 L207.24,456.07 L207.84,454.88 L208.44,453.55 L209.03,452.04 L209.63,450.31 L210.22,448.32 L210.82,446.01 L211.41,443.29 L212.01,440.07 L212.61,436.25 L213.2,431.72 L213.8,426.39 L214.39,420.24 L214.99,413.31 L215.58,405.79 L216.18,397.94 L216.78,390.09 L217.37,382.46 L217.97,375.27 L218.56,368.88 L219.16,363.34 L219.75,358.56 L220.35,354.43 L220.95,350.77 L221.54,347.46 L222.14,344.37 L222.73,341.43 L223.33,338.6 L223.92,335.86 L224.52,333.22 L225.12,330.74 L225.71,328.47 L226.31,326.46 L226.9,324.79 L227.5,323.48 L228.1,322.57 L228.69,322.03 L229.29,321.85 L229.88,321.99 L230.48,322.39 L231.07,323 L231.67,323.78 L232.27,324.69 L232.86,325.71 L233.46,326.82 L234.05,328.02 L234.65,329.28 L235.24,330.61 L235.84,331.99 L236.44,333.4 L237.03,334.81 L237.63,336.2 L238.22,337.54 L238.82,338.83 L239.41,340.06 L240.01,341.23 L240.61,342.35 L241.2,343.42 L241.8,344.45 L242.39,345.43 L242.99,346.38 L243.58,347.29 L244.18,348.16 L244.78,349 L245.37,349.8 L245.97,350.57 L246.56,351.31 L247.16,352.01 L247.75,352.69 L248.35,353.34 L248.95,353.97 L249.54,354.59 L250.14,355.18 L250.73,355.77 L251.33,356.35 L251.93,356.93 L252.52,357.5 L253.12,358.08 L253.71,358.66 L254.31,359.25 L254.9,359.83 L255.5,360.42 L256.1,361.01 L256.69,361.59 L257.29,362.17 L257.88,362.75 L258.48,363.32 L259.07,363.87 L259.67,364.42 L260.27,364.94 L260.86,365.45 L261.46,365.94 L262.05,366.41 L262.65,366.86 L263.24,367.28 L263.84,367.67 L264.44,368.04 L265.03,368.38 L265.63,368.7 L266.22,369 L266.82,369.28 L267.41,369.55 L268.01,369.8 L268.61,370.05 L269.2,370.29 L269.8,370.52 L270.39,370.74 L270.99,370.95 L271.58,371.16 L272.18,371.36 L272.78,371.56 L273.37,371.75 L273.97,371.93 L274.56,372.11 L275.16,372.29 L275.75,372.46 L276.35,372.63 L276.95,372.79 L277.54,372.95 L278.14,373.11 L278.73,373.26 L279.33,373.41 L279.93,373.56 L280.52,373.71 L281.12,373.86 L281.71,374 L282.31,374.15 L282.9,374.29 L283.5,374.44 L284.1,374.58 L284.69,374.72 L285.29,374.86 L285.88,375 L286.48,375.14 L287.07,375.28 L287.67,375.41 L288.27,375.55 L288.86,375.68 L289.46,375.81 L290.05,375.94 L290.65,376.07 L291.24,376.2 L291.84,376.32 L292.44,376.44 L293.03,376.56 L293.63,376.68 L294.22,376.79 L294.82,376.91 L295.41,377.02 L296.01,377.12 L296.61,377.23 L297.2,377.33 L297.8,377.42 L298.39,377.52 L298.99,377.61 L299.59,377.7 L300.18,377.78 L300.78,377.86 L301.37,377.94 L301.97,378.01 L302.56,378.09 L303.16,378.16 L303.76,378.23 L304.35,378.3 L304.95,378.37 L305.54,378.44 L306.14,378.51 L306.73,378.58 L307.33,378.65 L307.93,378.71 L308.52,378.78 L309.12,378.85 L309.71,378.92 L310.31,378.99 L310.9,379.05 L311.5,379.12" fill="none" stroke="#111" stroke-width="1.2" stroke-linejoin="round" />
<path d="M73.2,380.71 L73.8,380.65 L74.39,380.6 L74.99,380.55 L75.58,380.49 L76.18,380.44 L76.77,380.38 L77.37,380.33 L77.97,380.27 L78.56,380.21 L79.16,380.16 L79.75,380.1 L80.35,380.04 L80.94,379.98 L81.54,379.93 L82.14,379.87 L82.73,379.81 L83.33,379.75 L83.92,379.69 L84.52,379.63 L85.11,379.57 L85.71,379.51 L86.31,379.45 L86.9,379.39 L87.5,379.33 L88.09,379.27 L88.69,379.2 L89.29,379.14 L89.88,379.07 L90.48,379 L91.07,378.92 L91.67,378.85 L92.26,378.77 L92.86,378.69 L93.46,378.6 L94.05,378.52 L94.65,378.43 L95.24,378.34 L95.84,378.24 L96.43,378.15 L97.03,378.05 L97.63,377.95 L98.22,377.84 L98.82,377.74 L99.41,377.63 L100.01,377.52 L100.6,377.41 L101.2,377.3 L101.8,377.19 L102.39,377.07 L102.99,376.96 L103.58,376.84 L104.18,376.72 L104.77,376.61 L105.37,376.49 L105.97,376.36 L106.56,376.24 L107.16,376.12 L107.75,376 L108.35,375.87 L108.95,375.75 L109.54,375.62 L110.14,375.49 L110.73,375.36 L111.33,375.23 L111.92,375.1 L112.52,374.96 L113.12,374.82 L113.71,374.68 L114.31,374.54 L114.9,374.39 L115.5,374.24 L116.09,374.08 L116.69,373.92 L117.29,373.75 L117.88,373.58 L118.48,373.41 L119.07,373.23 L119.67,373.04 L120.26,372.84 L120.86,372.64 L121.46,372.43 L122.05,372.21 L122.65,371.98 L123.24,371.73 L123.84,371.47 L124.43,371.2 L125.03,370.91 L125.63,370.6 L126.22,370.27 L126.82,369.92 L127.41,369.56 L128.01,369.17 L128.6,368.77 L129.2,368.35 L129.8,367.91 L130.39,367.46 L130.99,367 L131.58,366.53 L132.18,366.05 L132.78,365.57 L133.37,365.07 L133.97,364.58 L134.56,364.08 L135.16,363.58 L135.75,363.08 L136.35,362.59 L136.95,362.08 L137.54,361.58 L138.14,361.07 L138.73,360.56 L139.33,360.04 L139.92,359.51 L140.52,358.97 L141.12,358.41 L141.71,357.84 L142.31,357.24 L142.9,356.62 L143.5,355.98 L144.09,355.31 L144.69,354.61 L145.29,353.88 L145.88,353.12 L146.48,352.32 L147.07,351.5 L147.67,350.63 L148.26,349.73 L148.86,348.79 L149.46,347.81 L150.05,346.79 L150.65,345.74 L151.24,344.66 L151.84,343.56 L152.43,342.44 L153.03,341.33 L153.63,340.23 L154.22,339.16 L154.82,338.13 L155.41,337.16 L156.01,336.26 L156.61,335.47 L157.2,334.79 L157.8,334.26 L158.39,333.91 L158.99,333.75 L159.58,333.83 L160.18,334.16 L160.78,334.76 L161.37,335.65 L161.97,336.84 L162.56,338.31 L163.16,340.06 L163.75,342.09 L164.35,344.37 L164.95,346.92 L165.54,349.74 L166.14,352.86 L166.73,356.31 L167.33,360.13 L167.92,364.36 L168.52,369.02 L169.12,374.12 L169.71,379.62 L170.31,385.46 L170.9,391.04 L171.5,396.7 L172.09,402.32 L172.69,407.77 L173.29,412.91 L173.88,417.67 L174.48,421.96 L175.07,425.78 L175.67,429.11 L176.26,431.98 L176.86,434.44 L177.46,436.53 L178.05,438.31 L178.65,439.81 L179.24,441.09 L179.84,442.17 L180.44,443.08 L181.03,443.84 L181.63,444.47 L182.22,444.99 L182.82,445.41 L183.41,445.74 L184.01,446 L184.61,446.2 L185.2,446.35 L185.8,446.47 L186.39,446.55 L186.99,446.62 L187.58,446.66 L188.18,446.7 L188.78,446.73 L189.37,446.75 L189.97,446.76 L190.56,446.78 L191.16,446.79 L191.75,446.79 L192.35,446.79 L192.95,446.79 L193.54,446.79 L194.14,446.78 L194.73,446.76 L195.33,446.75 L195.92,446.73 L196.52,446.7 L197.12,446.66 L197.71,446.62 L198.31,446.55 L198.9,446.47 L199.5,446.35 L200.09,446.2 L200.69,446 L201.29,445.74 L201.88,445.41 L202.48,444.99 L203.07,444.47 L203.67,443.84 L204.27,443.08 L204.86,442.17 L205.46,441.09 L206.05,439.81 L206.65,438.31 L207.24,436.53 L207.84,434.44 L208.44,431.98 L209.03,429.11 L209.63,425.78 L210.22,421.96 L210.82,417.67 L211.41,412.91 L212.01,407.77 L212.61,402.32 L213.2,396.7 L213.8,391.04 L214.39,385.46 L214.99,379.62 L215.58,374.12 L216.18,369.02 L216.78,364.36 L217.37,360.13 L217.97,356.31 L218.56,352.86 L219.16,349.74 L219.75,346.92 L220.35,344.37 L220.95,342.09 L221.54,340.06 L222.14,338.31 L222.73,336.84 L223.33,335.65 L223.92,334.76 L224.52,334.16 L225.12,333.83 L225.71,333.75 L226.31,333.91 L226.9,334.26 L227.5,334.79 L228.1,335.47 L228.69,336.26 L229.29,337.16 L229.88,338.13 L230.48,339.16 L231.07,340.23 L231.67,341.33 L232.27,342.44 L232.86,343.56 L233.46,344.66 L234.05,345.74 L234.65,346.79 L235.24,347.81 L235.84,348.79 L236.44,349.73 L237.03,350.63 L237.63,351.5 L238.22,352.32 L238.82,353.12 L239.41,353.88 L240.01,354.61 L240.61,355.31 L241.2,355.98 L241.8,356.62 L242.39,357.24 L242.99,357.84 L243.58,358.41 L244.18,358.97 L244.78,359.51 L245.37,360.04 L245.97,360.56 L246.56,361.07 L247.16,361.58 L247.75,362.08 L248.35,362.59 L248.95,363.08 L249.54,363.58 L250.14,364.08 L250.73,364.58 L251.33,365.07 L251.93,365.57 L252.52,366.05 L253.12,366.53 L253.71,367 L254.31,367.46 L254.9,367.91 L255.5,368.35 L256.1,368.77 L256.69,369.17 L257.29,369.56 L257.88,369.92 L258.48,370.27 L259.07,370.6 L259.67,370.91 L260.27,371.2 L260.86,371.47 L261.46,371.73 L262.05,371.98 L262.65,372.21 L263.24,372.43 L263.84,372.64 L264.44,372.84 L265.03,373.04 L265.63,373.23 L266.22,373.41 L266.82,373.58 L267.41,373.75 L268.01,373.92 L268.61,374.08 L269.2,374.24 L269.8,374.39 L270.39,374.54 L270.99,374.68 L271.58,374.82 L272.18,374.96 L272.78,375.1 L273.37,375.23 L273.97,375.36 L274.56,375.49 L275.16,375.62 L275.75,375.75 L276.35,375.87 L276.95,376 L277.54,376.12 L278.14,376.24 L278.73,376.36 L279.33,376.49 L279.93,376.61 L280.52,376.72 L281.12,376.84 L281.71,376.96 L282.31,377.07 L282.9,377.19 L283.5,377.3 L284.1,377.41 L284.69,377.52 L285.29,377.63 L285.88,377.74 L286.48,377.84 L287.07,377.95 L287.67,378.05 L288.27,378.15 L288.86,378.24 L289.46,378.34 L290.05,378.43 L290.65,378.52 L291.24,378.6 L291.84,378.69 L292.44,378.77 L293.03,378.85 L293.63,378.92 L294.22,379 L294.82,379.07 L295.41,379.14 L296.01,379.2 L296.61,379.27 L297.2,379.33 L297.8,379.39 L298.39,379.45 L298.99,379.51 L299.59,379.57 L300.18,379.63 L300.78,379.69 L301.37,379.75 L301.97,379.81 L302.56,379.87 L303.16,379.93 L303.76,379.98 L304.35,380.04 L304.95,380.1 L305.54,380.16 L306.14,380.21 L306.73,380.27 L307.33,380.33 L307.93,380.38 L308.52,380.44 L309.12,380.49 L309.71,380.55 L310.31,380.6 L310.9,380.65 L311.5,380.71" fill="none" stroke="#111" stroke-width="1.2" stroke-linejoin="round" />
<path d="M73.2,383.17 L73.8,383.15 L74.39,383.13 L74.99,383.1 L75.58,383.08 L76.18,383.05 L76.77,383.03 L77.37,383 L77.97,382.98 L78.56,382.95 L79.16,382.92 L79.75,382.89 L80.35,382.87 L80.94,382.84 L81.54,382.81 L82.14,382.78 L82.73,382.75 L83.33,382.72 L83.92,382.68 L84.52,382.65 L85.11,382.62 L85.71,382.59 L86.31,382.55 L86.9,382.52 L87.5,382.49 L88.09,382.45 L88.69,382.42 L89.29,382.38 L89.88,382.35 L90.48,382.31 L91.07,382.28 L91.67,382.24 L92.26,382.2 L92.86,382.17 L93.46,382.13 L94.05,382.09 L94.65,382.05 L95.24,382.01 L95.84,381.97 L96.43,381.94 L97.03,381.89 L97.63,381.85 L98.22,381.81 L98.82,381.77 L99.41,381.73 L100.01,381.68 L100.6,381.64 L101.2,381.59 L101.8,381.54 L102.39,381.49 L102.99,381.44 L103.58,381.39 L104.18,381.34 L104.77,381.29 L105.37,381.23 L105.97,381.17 L106.56,381.11 L107.16,381.05 L107.75,380.99 L108.35,380.92 L108.95,380.86 L109.54,380.78 L110.14,380.71 L110.73,380.63 L111.33,380.55 L111.92,380.47 L112.52,380.38 L113.12,380.3 L113.71,380.2 L114.31,380.11 L114.9,380.01 L115.5,379.9 L116.09,379.8 L116.69,379.69 L117.29,379.58 L117.88,379.46 L118.48,379.34 L119.07,379.22 L119.67,379.09 L120.26,378.97 L120.86,378.84 L121.46,378.7 L122.05,378.57 L122.65,378.43 L123.24,378.29 L123.84,378.15 L124.43,378 L125.03,377.86 L125.63,377.71 L126.22,377.56 L126.82,377.41 L127.41,377.25 L128.01,377.1 L128.6,376.94 L129.2,376.77 L129.8,376.61 L130.39,376.44 L130.99,376.27 L131.58,376.09 L132.18,375.91 L132.78,375.73 L133.37,375.54 L133.97,375.34 L134.56,375.14 L135.16,374.94 L135.75,374.73 L136.35,374.51 L136.95,374.29 L137.54,374.06 L138.14,373.83 L138.73,373.59 L139.33,373.34 L139.92,373.09 L140.52,372.84 L141.12,372.58 L141.71,372.32 L142.31,372.06 L142.9,371.8 L143.5,371.54 L144.09,371.28 L144.69,371.02 L145.29,370.77 L145.88,370.53 L146.48,370.3 L147.07,370.09 L147.67,369.88 L148.26,369.7 L148.86,369.54 L149.46,369.41 L150.05,369.3 L150.65,369.22 L151.24,369.18 L151.84,369.18 L152.43,369.22 L153.03,369.3 L153.63,369.43 L154.22,369.61 L154.82,369.84 L155.41,370.12 L156.01,370.47 L156.61,370.87 L157.2,371.34 L157.8,371.87 L158.39,372.47 L158.99,373.13 L159.58,373.85 L160.18,374.64 L160.78,375.49 L161.37,376.41 L161.97,377.38 L162.56,378.41 L163.16,379.5 L163.75,380.63 L164.35,381.81 L164.95,383.02 L165.54,384.26 L166.14,385.57 L166.73,387.52 L167.33,389.47 L167.92,391.42 L168.52,393.36 L169.12,395.27 L169.71,397.15 L170.31,398.97 L170.9,400.74 L171.5,402.45 L172.09,404.07 L172.69,405.62 L173.29,407.08 L173.88,408.45 L174.48,409.73 L175.07,410.91 L175.67,412 L176.26,413 L176.86,413.92 L177.46,414.74 L178.05,415.49 L178.65,416.16 L179.24,416.76 L179.84,417.29 L180.44,417.76 L181.03,418.17 L181.63,418.53 L182.22,418.85 L182.82,419.12 L183.41,419.35 L184.01,419.56 L184.61,419.73 L185.2,419.88 L185.8,420 L186.39,420.11 L186.99,420.2 L187.58,420.27 L188.18,420.33 L188.78,420.38 L189.37,420.42 L189.97,420.45 L190.56,420.47 L191.16,420.49 L191.75,420.5 L192.35,420.5 L192.95,420.5 L193.54,420.49 L194.14,420.47 L194.73,420.45 L195.33,420.42 L195.92,420.38 L196.52,420.33 L197.12,420.27 L197.71,420.2 L198.31,420.11 L198.9,420 L199.5,419.88 L200.09,419.73 L200.69,419.56 L201.29,419.35 L201.88,419.12 L202.48,418.85 L203.07,418.53 L203.67,418.17 L204.27,417.76 L204.86,417.29 L205.46,416.76 L206.05,416.16 L206.65,415.49 L207.24,414.74 L207.84,413.92 L208.44,413 L209.03,412 L209.63,410.91 L210.22,409.73 L210.82,408.45 L211.41,407.08 L212.01,405.62 L212.61,404.07 L213.2,402.45 L213.8,400.74 L214.39,398.97 L214.99,397.15 L215.58,395.27 L216.18,393.36 L216.78,391.42 L217.37,389.47 L217.97,387.52 L218.56,385.57 L219.16,384.26 L219.75,383.02 L220.35,381.81 L220.95,380.63 L221.54,379.5 L222.14,378.41 L222.73,377.38 L223.33,376.41 L223.92,375.49 L224.52,374.64 L225.12,373.85 L225.71,373.13 L226.31,372.47 L226.9,371.87 L227.5,371.34 L228.1,370.87 L228.69,370.47 L229.29,370.12 L229.88,369.84 L230.48,369.61 L231.07,369.43 L231.67,369.3 L232.27,369.22 L232.86,369.18 L233.46,369.18 L234.05,369.22 L234.65,369.3 L235.24,369.41 L235.84,369.54 L236.44,369.7 L237.03,369.88 L237.63,370.09 L238.22,370.3 L238.82,370.53 L239.41,370.77 L240.01,371.02 L240.61,371.28 L241.2,371.54 L241.8,371.8 L242.39,372.06 L242.99,372.32 L243.58,372.58 L244.18,372.84 L244.78,373.09 L245.37,373.34 L245.97,373.59 L246.56,373.83 L247.16,374.06 L247.75,374.29 L248.35,374.51 L248.95,374.73 L249.54,374.94 L250.14,375.14 L250.73,375.34 L251.33,375.54 L251.93,375.73 L252.52,375.91 L253.12,376.09 L253.71,376.27 L254.31,376.44 L254.9,376.61 L255.5,376.77 L256.1,376.94 L256.69,377.1 L257.29,377.25 L257.88,377.41 L258.48,377.56 L259.07,377.71 L259.67,377.86 L260.27,378 L260.86,378.15 L261.46,378.29 L262.05,378.43 L262.65,378.57 L263.24,378.7 L263.84,378.84 L264.44,378.97 L265.03,379.09 L265.63,379.22 L266.22,379.34 L266.82,379.46 L267.41,379.58 L268.01,379.69 L268.61,379.8 L269.2,379.9 L269.8,380.01 L270.39,380.11 L270.99,380.2 L271.58,380.3 L272.18,380.38 L272.78,380.47 L273.37,380.55 L273.97,380.63 L274.56,380.71 L275.16,380.78 L275.75,380.86 L276.35,380.92 L276.95,380.99 L277.54,381.05 L278.14,381.11 L278.73,381.17 L279.33,381.23 L279.93,381.29 L280.52,381.34 L281.12,381.39 L281.71,381.44 L282.31,381.49 L282.9,381.54 L283.5,381.59 L284.1,381.64 L284.69,381.68 L285.29,381.73 L285.88,381.77 L286.48,381.81 L287.07,381.85 L287.67,381.89 L288.27,381.94 L288.86,381.97 L289.46,382.01 L290.05,382.05 L290.65,382.09 L291.24,382.13 L291.84,382.17 L292.44,382.2 L293.03,382.24 L293.63,382.28 L294.22,382.31 L294.82,382.35 L295.41,382.38 L296.01,382.42 L296.61,382.45 L297.2,382.49 L297.8,382.52 L298.39,382.55 L298.99,382.59 L299.59,382.62 L300.18,382.65 L300.78,382.68 L301.37,382.72 L301.97,382.75 L302.56,382.78 L303.16,382.81 L303.76,382.84 L304.35,382.87 L304.95,382.89 L305.54,382.92 L306.14,382.95 L306.73,382.98 L307.33,383 L307.93,383.03 L308.52,383.05 L309.12,383.08 L309.71,383.1 L310.31,383.13 L310.9,383.15 L311.5,383.17" fill="none" stroke="#111" stroke-width="1.2" stroke-linejoin="round" />
<path d="M73.2,383.35 L73.8,383.33 L74.39,383.31 L74.99,383.28 L75.58,383.26 L76.18,383.24 L76.77,383.22 L77.37,383.19 L77.97,383.17 L78.56,383.14 L79.16,383.12 L79.75,383.09 L80.35,383.06 L80.94,383.04 L81.54,383.01 L82.14,382.98 L82.73,382.95 L83.33,382.93 L83.92,382.9 L84.52,382.87 L85.11,382.84 L85.71,382.81 L86.31,382.78 L86.9,382.75 L87.5,382.72 L88.09,382.68 L88.69,382.65 L89.29,382.62 L89.88,382.59 L90.48,382.55 L91.07,382.52 L91.67,382.49 L92.26,382.45 L92.86,382.42 L93.46,382.38 L94.05,382.35 L94.65,382.31 L95.24,382.28 L95.84,382.24 L96.43,382.21 L97.03,382.17 L97.63,382.13 L98.22,382.09 L98.82,382.05 L99.41,382.01 L100.01,381.97 L100.6,381.93 L101.2,381.89 L101.8,381.84 L102.39,381.8 L102.99,381.75 L103.58,381.71 L104.18,381.66 L104.77,381.61 L105.37,381.56 L105.97,381.5 L106.56,381.45 L107.16,381.39 L107.75,381.33 L108.35,381.27 L108.95,381.21 L109.54,381.14 L110.14,381.07 L110.73,381 L111.33,380.93 L111.92,380.85 L112.52,380.77 L113.12,380.69 L113.71,380.61 L114.31,380.52 L114.9,380.43 L115.5,380.33 L116.09,380.23 L116.69,380.13 L117.29,380.03 L117.88,379.92 L118.48,379.81 L119.07,379.7 L119.67,379.58 L120.26,379.46 L120.86,379.34 L121.46,379.22 L122.05,379.1 L122.65,378.97 L123.24,378.84 L123.84,378.71 L124.43,378.58 L125.03,378.44 L125.63,378.31 L126.22,378.17 L126.82,378.03 L127.41,377.88 L128.01,377.74 L128.6,377.59 L129.2,377.44 L129.8,377.29 L130.39,377.13 L130.99,376.97 L131.58,376.81 L132.18,376.64 L132.78,376.47 L133.37,376.3 L133.97,376.12 L134.56,375.94 L135.16,375.75 L135.75,375.55 L136.35,375.35 L136.95,375.15 L137.54,374.94 L138.14,374.72 L138.73,374.5 L139.33,374.27 L139.92,374.04 L140.52,373.81 L141.12,373.57 L141.71,373.33 L142.31,373.09 L142.9,372.85 L143.5,372.61 L144.09,372.37 L144.69,372.13 L145.29,371.9 L145.88,371.68 L146.48,371.47 L147.07,371.27 L147.67,371.08 L148.26,370.91 L148.86,370.77 L149.46,370.64 L150.05,370.54 L150.65,370.47 L151.24,370.43 L151.84,370.43 L152.43,370.46 L153.03,370.54 L153.63,370.66 L154.22,370.82 L154.82,371.04 L155.41,371.3 L156.01,371.62 L156.61,372 L157.2,372.43 L157.8,372.92 L158.39,373.46 L158.99,374.07 L159.58,374.74 L160.18,375.47 L160.78,376.26 L161.37,377.1 L161.97,378 L162.56,378.95 L163.16,379.96 L163.75,381 L164.35,382.09 L164.95,383.21 L165.54,384.36 L166.14,385.56 L166.73,387.29 L167.33,389.04 L167.92,390.78 L168.52,392.51 L169.12,394.22 L169.71,395.89 L170.31,397.53 L170.9,399.11 L171.5,400.63 L172.09,402.08 L172.69,403.46 L173.29,404.76 L173.88,405.98 L174.48,407.13 L175.07,408.18 L175.67,409.16 L176.26,410.05 L176.86,410.87 L177.46,411.6 L178.05,412.27 L178.65,412.87 L179.24,413.4 L179.84,413.88 L180.44,414.29 L181.03,414.66 L181.63,414.99 L182.22,415.27 L182.82,415.51 L183.41,415.72 L184.01,415.9 L184.61,416.06 L185.2,416.19 L185.8,416.3 L186.39,416.4 L186.99,416.48 L187.58,416.54 L188.18,416.6 L188.78,416.64 L189.37,416.67 L189.97,416.7 L190.56,416.72 L191.16,416.74 L191.75,416.74 L192.35,416.75 L192.95,416.74 L193.54,416.74 L194.14,416.72 L194.73,416.7 L195.33,416.67 L195.92,416.64 L196.52,416.6 L197.12,416.54 L197.71,416.48 L198.31,416.4 L198.9,416.3 L199.5,416.19 L200.09,416.06 L200.69,415.9 L201.29,415.72 L201.88,415.51 L202.48,415.27 L203.07,414.99 L203.67,414.66 L204.27,414.29 L204.86,413.88 L205.46,413.4 L206.05,412.87 L206.65,412.27 L207.24,411.6 L207.84,410.87 L208.44,410.05 L209.03,409.16 L209.63,408.18 L210.22,407.13 L210.82,405.98 L211.41,404.76 L212.01,403.46 L212.61,402.08 L213.2,400.63 L213.8,399.11 L214.39,397.53 L214.99,395.89 L215.58,394.22 L216.18,392.51 L216.78,390.78 L217.37,389.04 L217.97,387.29 L218.56,385.56 L219.16,384.36 L219.75,383.21 L220.35,382.09 L220.95,381 L221.54,379.96 L222.14,378.95 L222.73,378 L223.33,377.1 L223.92,376.26 L224.52,375.47 L225.12,374.74 L225.71,374.07 L226.31,373.46 L226.9,372.92 L227.5,372.43 L228.1,372 L228.69,371.62 L229.29,371.3 L229.88,371.04 L230.48,370.82 L231.07,370.66 L231.67,370.54 L232.27,370.46 L232.86,370.43 L233.46,370.43 L234.05,370.47 L234.65,370.54 L235.24,370.64 L235.84,370.77 L236.44,370.91 L237.03,371.08 L237.63,371.27 L238.22,371.47 L238.82,371.68 L239.41,371.9 L240.01,372.13 L240.61,372.37 L241.2,372.61 L241.8,372.85 L242.39,373.09 L242.99,373.33 L243.58,373.57 L244.18,373.81 L244.78,374.04 L245.37,374.27 L245.97,374.5 L246.56,374.72 L247.16,374.94 L247.75,375.15 L248.35,375.35 L248.95,375.55 L249.54,375.75 L250.14,375.94 L250.73,376.12 L251.33,376.3 L251.93,376.47 L252.52,376.64 L253.12,376.81 L253.71,376.97 L254.31,377.13 L254.9,377.29 L255.5,377.44 L256.1,377.59 L256.69,377.74 L257.29,377.88 L257.88,378.03 L258.48,378.17 L259.07,378.31 L259.67,378.44 L260.27,378.58 L260.86,378.71 L261.46,378.84 L262.05,378.97 L262.65,379.1 L263.24,379.22 L263.84,379.34 L264.44,379.46 L265.03,379.58 L265.63,379.7 L266.22,379.81 L266.82,379.92 L267.41,380.03 L268.01,380.13 L268.61,380.23 L269.2,380.33 L269.8,380.43 L270.39,380.52 L270.99,380.61 L271.58,380.69 L272.18,380.77 L272.78,380.85 L273.37,380.93 L273.97,381 L274.56,381.07 L275.16,381.14 L275.75,381.21 L276.35,381.27 L276.95,381.33 L277.54,381.39 L278.14,381.45 L278.73,381.5 L279.33,381.56 L279.93,381.61 L280.52,381.66 L281.12,381.71 L281.71,381.75 L282.31,381.8 L282.9,381.84 L283.5,381.89 L284.1,381.93 L284.69,381.97 L285.29,382.01 L285.88,382.05 L286.48,382.09 L287.07,382.13 L287.67,382.17 L288.27,382.21 L288.86,382.24 L289.46,382.28 L290.05,382.31 L290.65,382.35 L291.24,382.38 L291.84,382.42 L292.44,382.45 L293.03,382.49 L293.63,382.52 L294.22,382.55 L294.82,382.59 L295.41,382.62 L296.01,382.65 L296.61,382.68 L297.2,382.72 L297.8,382.75 L298.39,382.78 L298.99,382.81 L299.59,382.84 L300.18,382.87 L300.78,382.9 L301.37,382.93 L301.97,382.95 L302.56,382.98 L303.16,383.01 L303.76,383.04 L304.35,383.06 L304.95,383.09 L305.54,383.12 L306.14,383.14 L306.73,383.17 L307.33,383.19 L307.93,383.22 L308.52,383.24 L309.12,383.26 L309.71,383.28 L310.31,383.31 L310.9,383.33 L311.5,383.35" fill="none" stroke="#111" stroke-width="1.2" stroke-linejoin="round" />
<path d="M73.2,383.4 L73.8,383.38 L74.39,383.36 L74.99,383.34 L75.58,383.32 L76.18,383.3 L76.77,383.27 L77.37,383.25 L77.97,383.23 L78.56,383.2 L79.16,383.18 L79.75,383.15 L80.35,383.13 L80.94,383.1 L81.54,383.07 L82.14,383.05 L82.73,383.02 L83.33,382.99 L83.92,382.96 L84.52,382.93 L85.11,382.9 L85.71,382.87 L86.31,382.84 L86.9,382.81 L87.5,382.78 L88.09,382.75 L88.69,382.72 L89.29,382.69 L89.88,382.66 L90.48,382.63 L91.07,382.59 L91.67,382.56 L92.26,382.53 L92.86,382.49 L93.46,382.46 L94.05,382.43 L94.65,382.39 L95.24,382.36 L95.84,382.32 L96.43,382.29 L97.03,382.25 L97.63,382.21 L98.22,382.18 L98.82,382.14 L99.41,382.1 L100.01,382.06 L100.6,382.02 L101.2,381.98 L101.8,381.94 L102.39,381.9 L102.99,381.85 L103.58,381.81 L104.18,381.76 L104.77,381.71 L105.37,381.66 L105.97,381.61 L106.56,381.56 L107.16,381.51 L107.75,381.45 L108.35,381.39 L108.95,381.33 L109.54,381.27 L110.14,381.2 L110.73,381.13 L111.33,381.06 L111.92,380.99 L112.52,380.91 L113.12,380.83 L113.71,380.75 L114.31,380.66 L114.9,380.57 L115.5,380.48 L116.09,380.39 L116.69,380.29 L117.29,380.18 L117.88,380.08 L118.48,379.97 L119.07,379.86 L119.67,379.74 L120.26,379.63 L120.86,379.51 L121.46,379.39 L122.05,379.27 L122.65,379.14 L123.24,379.01 L123.84,378.88 L124.43,378.75 L125.03,378.62 L125.63,378.49 L126.22,378.36 L126.82,378.22 L127.41,378.08 L128.01,377.94 L128.6,377.8 L129.2,377.65 L129.8,377.51 L130.39,377.36 L130.99,377.2 L131.58,377.05 L132.18,376.89 L132.78,376.72 L133.37,376.56 L133.97,376.38 L134.56,376.21 L135.16,376.02 L135.75,375.84 L136.35,375.64 L136.95,375.44 L137.54,375.24 L138.14,375.03 L138.73,374.81 L139.33,374.58 L139.92,374.36 L140.52,374.12 L141.12,373.88 L141.71,373.64 L142.31,373.39 L142.9,373.15 L143.5,372.9 L144.09,372.65 L144.69,372.4 L145.29,372.16 L145.88,371.92 L146.48,371.69 L147.07,371.47 L147.67,371.26 L148.26,371.07 L148.86,370.9 L149.46,370.75 L150.05,370.63 L150.65,370.53 L151.24,370.46 L151.84,370.43 L152.43,370.44 L153.03,370.48 L153.63,370.57 L154.22,370.71 L154.82,370.89 L155.41,371.13 L156.01,371.42 L156.61,371.77 L157.2,372.18 L157.8,372.64 L158.39,373.17 L158.99,373.76 L159.58,374.42 L160.18,375.13 L160.78,375.91 L161.37,376.75 L161.97,377.66 L162.56,378.62 L163.16,379.64 L163.75,380.7 L164.35,381.82 L164.95,382.97 L165.54,384.16 L166.14,385.37 L166.73,386.76 L167.33,388.18 L167.92,389.59 L168.52,390.99 L169.12,392.37 L169.71,393.72 L170.31,395.03 L170.9,396.29 L171.5,397.5 L172.09,398.64 L172.69,399.72 L173.29,400.73 L173.88,401.67 L174.48,402.54 L175.07,403.34 L175.67,404.06 L176.26,404.72 L176.86,405.31 L177.46,405.84 L178.05,406.31 L178.65,406.73 L179.24,407.1 L179.84,407.42 L180.44,407.7 L181.03,407.94 L181.63,408.16 L182.22,408.34 L182.82,408.49 L183.41,408.63 L184.01,408.74 L184.61,408.84 L185.2,408.92 L185.8,408.98 L186.39,409.04 L186.99,409.08 L187.58,409.12 L188.18,409.15 L188.78,409.18 L189.37,409.2 L189.97,409.21 L190.56,409.22 L191.16,409.23 L191.75,409.23 L192.35,409.24 L192.95,409.23 L193.54,409.23 L194.14,409.22 L194.73,409.21 L195.33,409.2 L195.92,409.18 L196.52,409.15 L197.12,409.12 L197.71,409.08 L198.31,409.04 L198.9,408.98 L199.5,408.92 L200.09,408.84 L200.69,408.74 L201.29,408.63 L201.88,408.49 L202.48,408.34 L203.07,408.16 L203.67,407.94 L204.27,407.7 L204.86,407.42 L205.46,407.1 L206.05,406.73 L206.65,406.31 L207.24,405.84 L207.84,405.31 L208.44,404.72 L209.03,404.06 L209.63,403.34 L210.22,402.54 L210.82,401.67 L211.41,400.73 L212.01,399.72 L212.61,398.64 L213.2,397.5 L213.8,396.29 L214.39,395.03 L214.99,393.72 L215.58,392.37 L216.18,390.99 L216.78,389.59 L217.37,388.18 L217.97,386.76 L218.56,385.37 L219.16,384.16 L219.75,382.97 L220.35,381.82 L220.95,380.7 L221.54,379.64 L222.14,378.62 L222.73,377.66 L223.33,376.75 L223.92,375.91 L224.52,375.13 L225.12,374.42 L225.71,373.76 L226.31,373.17 L226.9,372.64 L227.5,372.18 L228.1,371.77 L228.69,371.42 L229.29,371.13 L229.88,370.89 L230.48,370.71 L231.07,370.57 L231.67,370.48 L232.27,370.44 L232.86,370.43 L233.46,370.46 L234.05,370.53 L234.65,370.63 L235.24,370.75 L235.84,370.9 L236.44,371.07 L237.03,371.26 L237.63,371.47 L238.22,371.69 L238.82,371.92 L239.41,372.16 L240.01,372.4 L240.61,372.65 L241.2,372.9 L241.8,373.15 L242.39,373.39 L242.99,373.64 L243.58,373.88 L244.18,374.12 L244.78,374.36 L245.37,374.58 L245.97,374.81 L246.56,375.03 L247.16,375.24 L247.75,375.44 L248.35,375.64 L248.95,375.84 L249.54,376.02 L250.14,376.21 L250.73,376.38 L251.33,376.56 L251.93,376.72 L252.52,376.89 L253.12,377.05 L253.71,377.2 L254.31,377.36 L254.9,377.51 L255.5,377.65 L256.1,377.8 L256.69,377.94 L257.29,378.08 L257.88,378.22 L258.48,378.36 L259.07,378.49 L259.67,378.62 L260.27,378.75 L260.86,378.88 L261.46,379.01 L262.05,379.14 L262.65,379.27 L263.24,379.39 L263.84,379.51 L264.44,379.63 L265.03,379.74 L265.63,379.86 L266.22,379.97 L266.82,380.08 L267.41,380.18 L268.01,380.29 L268.61,380.39 L269.2,380.48 L269.8,380.57 L270.39,380.66 L270.99,380.75 L271.58,380.83 L272.18,380.91 L272.78,380.99 L273.37,381.06 L273.97,381.13 L274.56,381.2 L275.16,381.27 L275.75,381.33 L276.35,381.39 L276.95,381.45 L277.54,381.51 L278.14,381.56 L278.73,381.61 L279.33,381.66 L279.93,381.71 L280.52,381.76 L281.12,381.81 L281.71,381.85 L282.31,381.9 L282.9,381.94 L283.5,381.98 L284.1,382.02 L284.69,382.06 L285.29,382.1 L285.88,382.14 L286.48,382.18 L287.07,382.21 L287.67,382.25 L288.27,382.29 L288.86,382.32 L289.46,382.36 L290.05,382.39 L290.65,382.43 L291.24,382.46 L291.84,382.49 L292.44,382.53 L293.03,382.56 L293.63,382.59 L294.22,382.63 L294.82,382.66 L295.41,382.69 L296.01,382.72 L296.61,382.75 L297.2,382.78 L297.8,382.81 L298.39,382.84 L298.99,382.87 L299.59,382.9 L300.18,382.93 L300.78,382.96 L301.37,382.99 L301.97,383.02 L302.56,383.05 L303.16,383.07 L303.76,383.1 L304.35,383.13 L304.95,383.15 L305.54,383.18 L306.14,383.2 L306.73,383.23 L307.33,383.25 L307.93,383.27 L308.52,383.3 L309.12,383.32 L309.71,383.34 L310.31,383.36 L310.9,383.38 L311.5,383.4" fill="none" stroke="#111" stroke-width="1.2" stroke-linejoin="round" />
<path d="M73.2,385.09 L73.8,385.08 L74.39,385.08 L74.99,385.08 L75.58,385.07 L76.18,385.07 L76.77,385.06 L77.37,385.06 L77.97,385.06 L78.56,385.05 L79.16,385.05 L79.75,385.04 L80.35,385.04 L80.94,385.03 L81.54,385.03 L82.14,385.02 L82.73,385.02 L83.33,385.01 L83.92,385.01 L84.52,385 L85.11,385 L85.71,384.99 L86.31,384.99 L86.9,384.98 L87.5,384.98 L88.09,384.97 L88.69,384.96 L89.29,384.96 L89.88,384.95 L90.48,384.95 L91.07,384.94 L91.67,384.93 L92.26,384.93 L92.86,384.92 L93.46,384.92 L94.05,384.91 L94.65,384.9 L95.24,384.9 L95.84,384.89 L96.43,384.88 L97.03,384.87 L97.63,384.87 L98.22,384.86 L98.82,384.85 L99.41,384.84 L100.01,384.84 L100.6,384.83 L101.2,384.82 L101.8,384.81 L102.39,384.8 L102.99,384.79 L103.58,384.79 L104.18,384.78 L104.77,384.77 L105.37,384.76 L105.97,384.75 L106.56,384.74 L107.16,384.72 L107.75,384.71 L108.35,384.7 L108.95,384.69 L109.54,384.68 L110.14,384.66 L110.73,384.65 L111.33,384.64 L111.92,384.62 L112.52,384.61 L113.12,384.59 L113.71,384.57 L114.31,384.56 L114.9,384.54 L115.5,384.52 L116.09,384.5 L116.69,384.49 L117.29,384.47 L117.88,384.45 L118.48,384.43 L119.07,384.41 L119.67,384.38 L120.26,384.36 L120.86,384.34 L121.46,384.32 L122.05,384.29 L122.65,384.27 L123.24,384.25 L123.84,384.22 L124.43,384.2 L125.03,384.17 L125.63,384.14 L126.22,384.12 L126.82,384.09 L127.41,384.06 L128.01,384.03 L128.6,384 L129.2,383.97 L129.8,383.94 L130.39,383.91 L130.99,383.88 L131.58,383.85 L132.18,383.81 L132.78,383.78 L133.37,383.74 L133.97,383.71 L134.56,383.67 L135.16,383.64 L135.75,383.6 L136.35,383.56 L136.95,383.52 L137.54,383.48 L138.14,383.45 L138.73,383.41 L139.33,383.37 L139.92,383.33 L140.52,383.29 L141.12,383.25 L141.71,383.22 L142.31,383.18 L142.9,383.14 L143.5,383.11 L144.09,383.08 L144.69,383.05 L145.29,383.03 L145.88,383 L146.48,382.98 L147.07,382.97 L147.67,382.96 L148.26,382.95 L148.86,382.95 L149.46,382.95 L150.05,382.96 L150.65,382.97 L151.24,383 L151.84,383.02 L152.43,383.06 L153.03,383.1 L153.63,383.15 L154.22,383.21 L154.82,383.28 L155.41,383.36 L156.01,383.44 L156.61,383.53 L157.2,383.63 L157.8,383.74 L158.39,383.86 L158.99,383.98 L159.58,384.11 L160.18,384.25 L160.78,384.4 L161.37,384.55 L161.97,384.71 L162.56,384.87 L163.16,385.04 L163.75,385.21 L164.35,385.39 L164.95,386.71 L165.54,388.66 L166.14,390.61 L166.73,392.56 L167.33,394.51 L167.92,396.43 L168.52,398.32 L169.12,400.18 L169.71,402 L170.31,403.76 L170.9,405.47 L171.5,407.11 L172.09,408.69 L172.69,410.2 L173.29,411.63 L173.88,412.99 L174.48,414.27 L175.07,415.47 L175.67,416.59 L176.26,417.63 L176.86,418.6 L177.46,419.49 L178.05,420.31 L178.65,421.06 L179.24,421.75 L179.84,422.37 L180.44,422.93 L181.03,423.44 L181.63,423.9 L182.22,424.3 L182.82,424.67 L183.41,424.99 L184.01,425.27 L184.61,425.52 L185.2,425.74 L185.8,425.93 L186.39,426.09 L186.99,426.24 L187.58,426.36 L188.18,426.46 L188.78,426.54 L189.37,426.61 L189.97,426.67 L190.56,426.71 L191.16,426.74 L191.75,426.76 L192.35,426.76 L192.95,426.76 L193.54,426.74 L194.14,426.71 L194.73,426.67 L195.33,426.61 L195.92,426.54 L196.52,426.46 L197.12,426.36 L197.71,426.24 L198.31,426.09 L198.9,425.93 L199.5,425.74 L200.09,425.52 L200.69,425.27 L201.29,424.99 L201.88,424.67 L202.48,424.3 L203.07,423.9 L203.67,423.44 L204.27,422.93 L204.86,422.37 L205.46,421.75 L206.05,421.06 L206.65,420.31 L207.24,419.49 L207.84,418.6 L208.44,417.63 L209.03,416.59 L209.63,415.47 L210.22,414.27 L210.82,412.99 L211.41,411.63 L212.01,410.2 L212.61,408.69 L213.2,407.11 L213.8,405.47 L214.39,403.76 L214.99,402 L215.58,400.18 L216.18,398.32 L216.78,396.43 L217.37,394.51 L217.97,392.56 L218.56,390.61 L219.16,388.66 L219.75,386.71 L220.35,385.39 L220.95,385.21 L221.54,385.04 L222.14,384.87 L222.73,384.71 L223.33,384.55 L223.92,384.4 L224.52,384.25 L225.12,384.11 L225.71,383.98 L226.31,383.86 L226.9,383.74 L227.5,383.63 L228.1,383.53 L228.69,383.44 L229.29,383.36 L229.88,383.28 L230.48,383.21 L231.07,383.15 L231.67,383.1 L232.27,383.06 L232.86,383.02 L233.46,383 L234.05,382.97 L234.65,382.96 L235.24,382.95 L235.84,382.95 L236.44,382.95 L237.03,382.96 L237.63,382.97 L238.22,382.98 L238.82,383 L239.41,383.03 L240.01,383.05 L240.61,383.08 L241.2,383.11 L241.8,383.14 L242.39,383.18 L242.99,383.22 L243.58,383.25 L244.18,383.29 L244.78,383.33 L245.37,383.37 L245.97,383.41 L246.56,383.45 L247.16,383.48 L247.75,383.52 L248.35,383.56 L248.95,383.6 L249.54,383.64 L250.14,383.67 L250.73,383.71 L251.33,383.74 L251.93,383.78 L252.52,383.81 L253.12,383.85 L253.71,383.88 L254.31,383.91 L254.9,383.94 L255.5,383.97 L256.1,384 L256.69,384.03 L257.29,384.06 L257.88,384.09 L258.48,384.12 L259.07,384.14 L259.67,384.17 L260.27,384.2 L260.86,384.22 L261.46,384.25 L262.05,384.27 L262.65,384.29 L263.24,384.32 L263.84,384.34 L264.44,384.36 L265.03,384.38 L265.63,384.41 L266.22,384.43 L266.82,384.45 L267.41,384.47 L268.01,384.49 L268.61,384.5 L269.2,384.52 L269.8,384.54 L270.39,384.56 L270.99,384.57 L271.58,384.59 L272.18,384.61 L272.78,384.62 L273.37,384.64 L273.97,384.65 L274.56,384.66 L275.16,384.68 L275.75,384.69 L276.35,384.7 L276.95,384.71 L277.54,384.72 L278.14,384.74 L278.73,384.75 L279.33,384.76 L279.93,384.77 L280.52,384.78 L281.12,384.79 L281.71,384.79 L282.31,384.8 L282.9,384.81 L283.5,384.82 L284.1,384.83 L284.69,384.84 L285.29,384.84 L285.88,384.85 L286.48,384.86 L287.07,384.87 L287.67,384.87 L288.27,384.88 L288.86,384.89 L289.46,384.9 L290.05,384.9 L290.65,384.91 L291.24,384.92 L291.84,384.92 L292.44,384.93 L293.03,384.93 L293.63,384.94 L294.22,384.95 L294.82,384.95 L295.41,384.96 L296.01,384.96 L296.61,384.97 L297.2,384.98 L297.8,384.98 L298.39,384.99 L298.99,384.99 L299.59,385 L300.18,385 L300.78,385.01 L301.37,385.01 L301.97,385.02 L302.56,385.02 L303.16,385.03 L303.76,385.03 L304.35,385.04 L304.95,385.04 L305.54,385.05 L306.14,385.05 L306.73,385.06 L307.33,385.06 L307.93,385.06 L308.52,385.07 L309.12,385.07 L309.71,385.08 L310.31,385.08 L310.9,385.08 L311.5,385.09" fill="none" stroke="#111" stroke-width="1.2" stroke-linejoin="round" />
<rect x="73.2" y="285.3" width="238.3" height="200.3" fill="none" stroke="#222" stroke-width="1.2"/>
<g stroke="#222" stroke-width="1.2"><line x1="68.2" y1="485.6" x2="73.2" y2="485.6"/><line x1="70.2" y1="460.56" x2="73.2" y2="460.56"/><line x1="68.2" y1="435.53" x2="73.2" y2="435.53"/><line x1="70.2" y1="410.49" x2="73.2" y2="410.49"/><line x1="68.2" y1="385.45" x2="73.2" y2="385.45"/><line x1="70.2" y1="360.41" x2="73.2" y2="360.41"/><line x1="68.2" y1="335.38" x2="73.2" y2="335.38"/><line x1="70.2" y1="310.34" x2="73.2" y2="310.34"/><line x1="68.2" y1="285.3" x2="73.2" y2="285.3"/><line x1="73.2" y1="485.6" x2="73.2" y2="490.6"/><line x1="102.99" y1="485.6" x2="102.99" y2="488.6"/><line x1="132.78" y1="485.6" x2="132.78" y2="490.6"/><line x1="162.56" y1="485.6" x2="162.56" y2="488.6"/><line x1="192.35" y1="485.6" x2="192.35" y2="490.6"/><line x1="222.14" y1="485.6" x2="222.14" y2="488.6"/><line x1="251.93" y1="485.6" x2="251.93" y2="490.6"/><line x1="281.71" y1="485.6" x2="281.71" y2="488.6"/><line x1="311.5" y1="485.6" x2="311.5" y2="490.6"/></g>
<text x="64.3" y="489.9" font-size="12.2" text-anchor="end" fill="#222" >0.92</text>
<text x="64.3" y="439.83" font-size="12.2" text-anchor="end" fill="#222" >0.96</text>
<text x="64.3" y="389.75" font-size="12.2" text-anchor="end" fill="#222" >1.00</text>
<text x="64.3" y="339.68" font-size="12.2" text-anchor="end" fill="#222" >1.04</text>
<text x="64.3" y="289.6" font-size="12.2" text-anchor="end" fill="#222" >1.08</text>
<text x="70.2" y="504" font-size="12.2" text-anchor="middle" fill="#222" >−4</text>
<text x="129.78" y="504" font-size="12.2" text-anchor="middle" fill="#222" >−2</text>
<text x="192.35" y="504" font-size="12.2" text-anchor="middle" fill="#222" >0</text>
<text x="251.93" y="504" font-size="12.2" text-anchor="middle" fill="#222" >2</text>
<text x="311.5" y="504" font-size="12.2" text-anchor="middle" fill="#222" >4</text>
<text x="175" y="525.5" font-size="12.2" fill="#222"><tspan font-style="italic">V</tspan> (mV)</text>
<text transform="translate(25.5,408.3) rotate(-90)" font-size="12.5" fill="#222">(d<tspan font-style="italic">I</tspan>/d<tspan font-style="italic">V</tspan>)<tspan font-size="7.5" dy="2.8">N</tspan></text>
<circle cx="83" cy="297.2" r="2.2" fill="url(#gef8d2e)"/>
<text x="95.2" y="299.8" font-size="12.3" text-anchor="start" fill="#222" textLength="65.6" lengthAdjust="spacingAndGlyphs" >Exprimental</text>
<line x1="75.3" y1="316" x2="90.7" y2="316" stroke="#111" stroke-width="1.2" />
<text x="95" y="319" font-size="12.3" text-anchor="start" fill="#222" textLength="37" lengthAdjust="spacingAndGlyphs" >BTK fit</text>
<circle cx="267.1" cy="405" r="2.15" fill="url(#gef8d2e)"/>
<text x="273.3" y="408.8" font-size="10.6" text-anchor="start" fill="#222" >0 kG</text>
<circle cx="267.1" cy="417.27" r="2.15" fill="url(#g8a2ea6)"/>
<text x="273.3" y="421.07" font-size="10.6" text-anchor="start" fill="#222" >3 kG</text>
<circle cx="267.1" cy="429.54" r="2.15" fill="url(#g8b9a2e)"/>
<text x="273.3" y="433.34" font-size="10.6" text-anchor="start" fill="#222" >5 kG</text>
<circle cx="267.1" cy="441.81" r="2.15" fill="url(#gf040f0)"/>
<text x="273.3" y="445.61" font-size="10.6" text-anchor="start" fill="#222" >9 kG</text>
<circle cx="267.1" cy="454.08" r="2.15" fill="url(#g2a2af0)"/>
<text x="273.3" y="457.88" font-size="10.6" text-anchor="start" fill="#222" >11 kG</text>
<circle cx="267.1" cy="466.35" r="2.15" fill="url(#gec2a2a)"/>
<text x="273.3" y="470.15" font-size="10.6" text-anchor="start" fill="#222" >13 kG</text>
<circle cx="267.1" cy="478.62" r="2.15" fill="url(#g555555)"/>
<text x="273.3" y="482.42" font-size="10.6" text-anchor="start" fill="#222" >15 kG</text>
<rect x="418.7" y="284.6" width="237.5" height="199.9" fill="none" stroke="#222" stroke-width="1.2"/>
<g stroke="#222" stroke-width="1.2"><line x1="414.7" y1="484.74" x2="418.7" y2="484.74"/><line x1="412.7" y1="461.2" x2="418.7" y2="461.2"/><line x1="414.7" y1="437.66" x2="418.7" y2="437.66"/><line x1="412.7" y1="414.12" x2="418.7" y2="414.12"/><line x1="414.7" y1="390.58" x2="418.7" y2="390.58"/><line x1="412.7" y1="367.04" x2="418.7" y2="367.04"/><line x1="414.7" y1="343.5" x2="418.7" y2="343.5"/><line x1="412.7" y1="319.96" x2="418.7" y2="319.96"/><line x1="414.7" y1="296.42" x2="418.7" y2="296.42"/><line x1="418.55" y1="484.5" x2="418.55" y2="488.5"/><line x1="443.6" y1="484.5" x2="443.6" y2="490.5"/><line x1="468.65" y1="484.5" x2="468.65" y2="488.5"/><line x1="493.7" y1="484.5" x2="493.7" y2="490.5"/><line x1="518.75" y1="484.5" x2="518.75" y2="488.5"/><line x1="543.8" y1="484.5" x2="543.8" y2="490.5"/><line x1="568.85" y1="484.5" x2="568.85" y2="488.5"/><line x1="593.9" y1="484.5" x2="593.9" y2="490.5"/><line x1="618.95" y1="484.5" x2="618.95" y2="488.5"/><line x1="644" y1="484.5" x2="644" y2="490.5"/></g>
<text x="408.4" y="465.5" font-size="12.2" text-anchor="end" fill="#222" >52</text>
<text x="408.4" y="418.42" font-size="12.2" text-anchor="end" fill="#222" >56</text>
<text x="408.4" y="371.34" font-size="12.2" text-anchor="end" fill="#222" >60</text>
<text x="408.4" y="324.26" font-size="12.2" text-anchor="end" fill="#222" >64</text>
<text x="443.6" y="503.8" font-size="12.2" text-anchor="middle" fill="#222" >0</text>
<text x="493.7" y="503.8" font-size="12.2" text-anchor="middle" fill="#222" >4</text>
<text x="543.8" y="503.8" font-size="12.2" text-anchor="middle" fill="#222" >8</text>
<text x="593.9" y="503.8" font-size="12.2" text-anchor="middle" fill="#222" >12</text>
<text x="644" y="503.8" font-size="12.2" text-anchor="middle" fill="#222" >16</text>
<text x="519.3" y="521" font-size="12.6" fill="#222"><tspan font-style="italic">H</tspan> (kG)</text>
<text transform="translate(384.6,405.7) rotate(-90)" font-size="13" fill="#222"><tspan font-style="italic">P</tspan><tspan font-size="8" dy="2.5">t</tspan><tspan dy="-2.5">(%)</tspan></text>
<circle cx="443.6" cy="452.37" r="4.1" fill="#ec1c24"/>
<circle cx="481.18" cy="454.73" r="4.1" fill="#ec1c24"/>
<circle cx="506.23" cy="460.26" r="4.1" fill="#ec1c24"/>
<circle cx="556.33" cy="441.66" r="4.1" fill="#ec1c24"/>
<circle cx="581.38" cy="437.19" r="4.1" fill="#ec1c24"/>
<circle cx="606.43" cy="408.24" r="4.1" fill="#ec1c24"/>
<circle cx="631.48" cy="308.19" r="4.1" fill="#ec1c24"/></svg>
</body></html>
